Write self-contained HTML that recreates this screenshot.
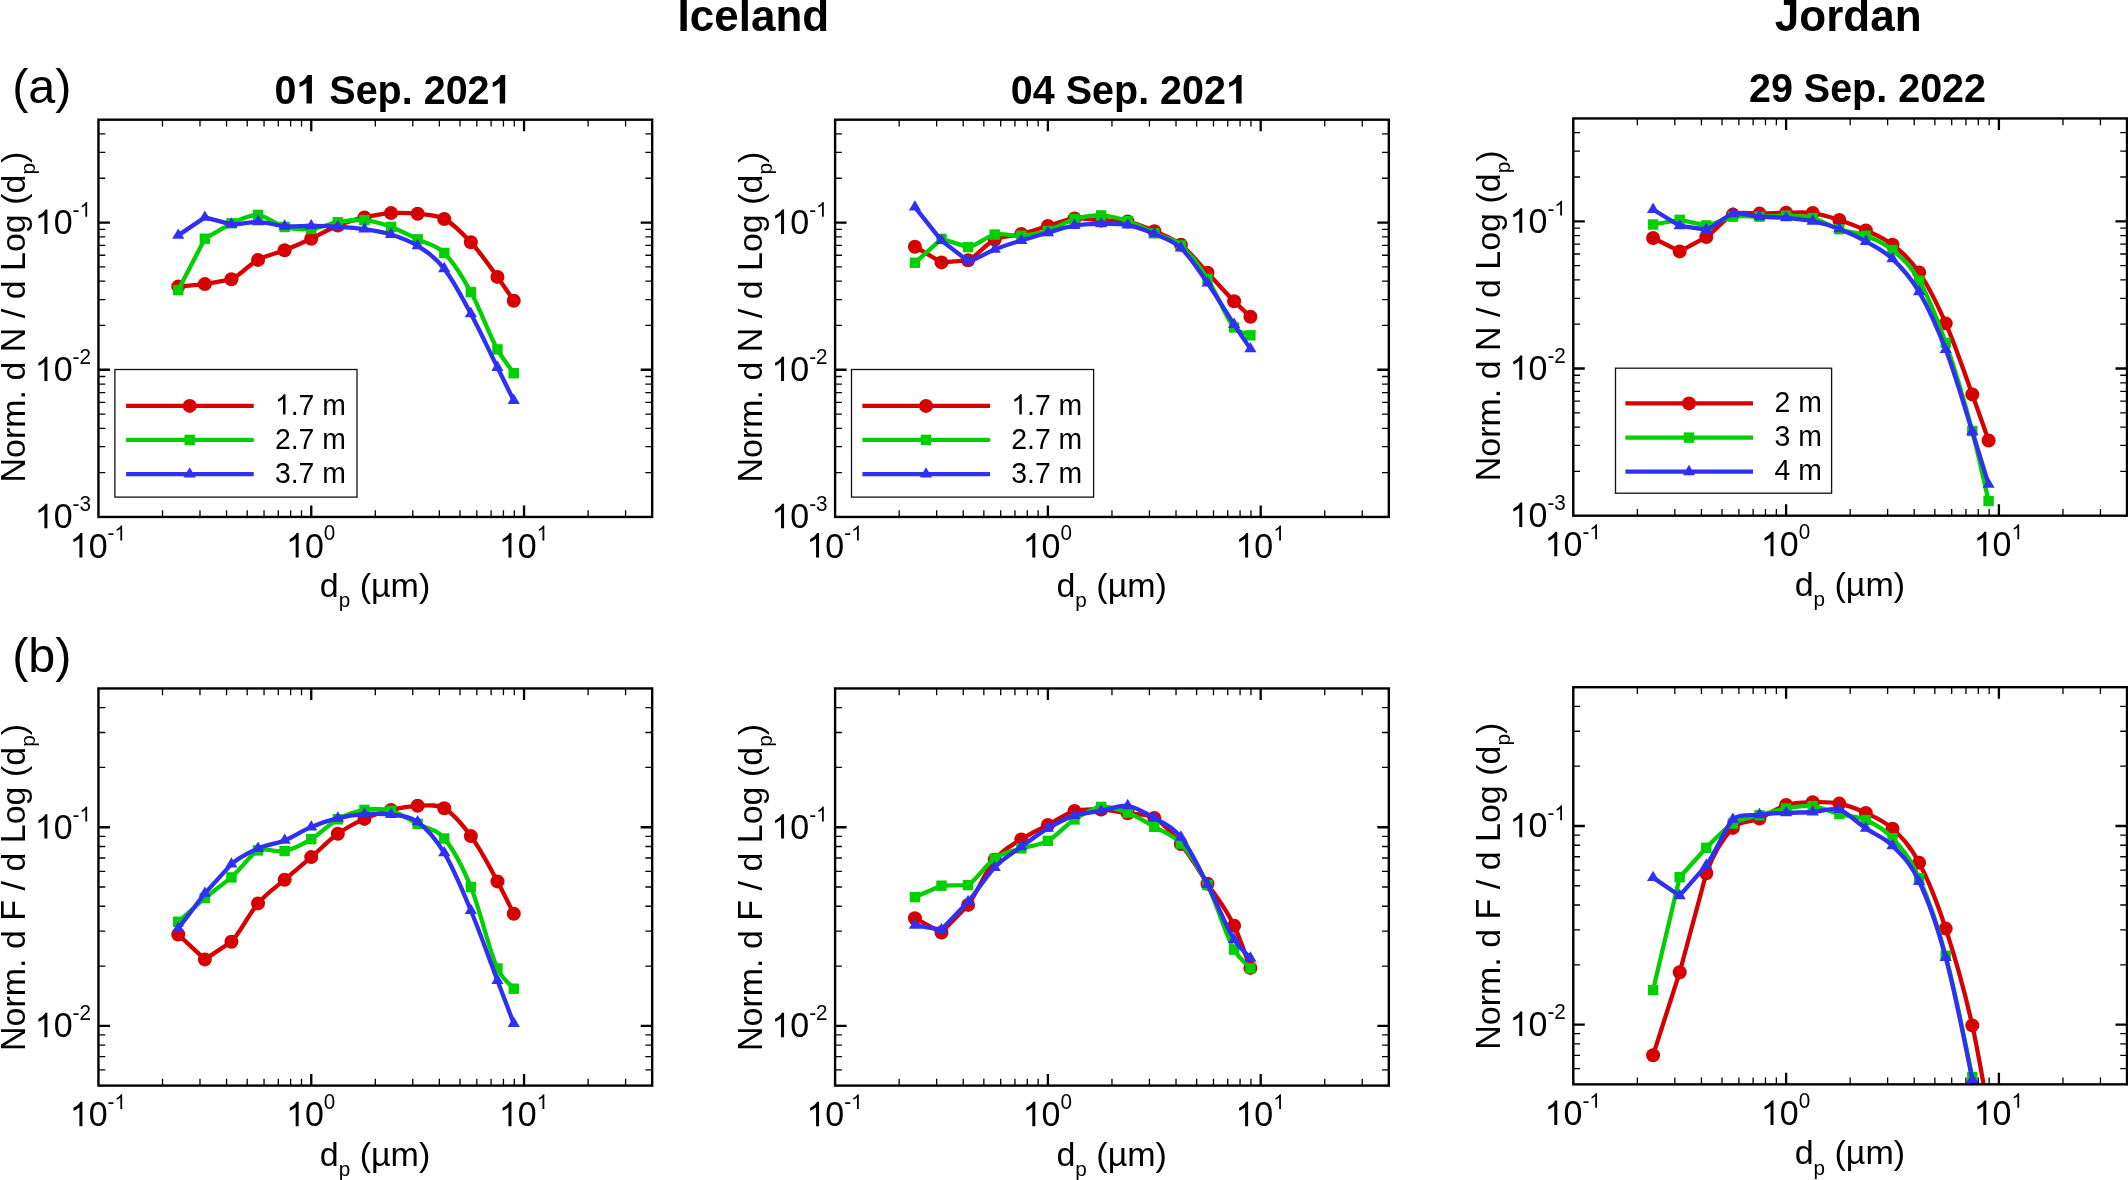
<!DOCTYPE html>
<html><head><meta charset="utf-8"><title>Particle size distributions</title>
<style>html,body{margin:0;padding:0;background:#fff}body{width:2128px;height:1180px;overflow:hidden}svg{display:block;will-change:transform}text{white-space:pre}</style>
</head><body>
<svg width="2128" height="1180" viewBox="0 0 2128 1180" font-family='"Liberation Sans", sans-serif' fill="#000">
<rect width="2128" height="1180" fill="#fff"/>
<clipPath id="c00"><rect x="98.45" y="119.70" width="553.72" height="397.25"/></clipPath>
<g clip-path="url(#c00)">
<path d="M178.25 286.60 L204.85 284.10 L231.45 279.30 C240.23 275.31 248.68 265.03 258.05 259.90 C267.42 254.77 274.91 254.08 284.65 250.20 C294.39 246.32 301.51 243.22 311.25 238.70 C320.99 234.18 328.23 229.35 337.85 225.50 C347.47 221.65 354.79 219.65 364.45 217.40 C374.11 215.15 381.47 213.75 391.05 213.10 C400.63 212.45 408.03 212.73 417.65 213.80 C427.27 214.87 435.82 214.48 444.25 219.00 C452.68 223.52 461.28 231.89 470.85 242.30 C480.42 252.71 487.71 263.46 497.45 276.90 C503.42 285.14 508.32 292.77 513.75 300.70" fill="none" stroke="#d60000" stroke-width="4.3" stroke-linejoin="round" stroke-linecap="butt"/>
<circle cx="178.25" cy="286.60" r="7" fill="#d60000"/>
<circle cx="204.85" cy="284.10" r="7" fill="#d60000"/>
<circle cx="231.45" cy="279.30" r="7" fill="#d60000"/>
<circle cx="258.05" cy="259.90" r="7" fill="#d60000"/>
<circle cx="284.65" cy="250.20" r="7" fill="#d60000"/>
<circle cx="311.25" cy="238.70" r="7" fill="#d60000"/>
<circle cx="337.85" cy="225.50" r="7" fill="#d60000"/>
<circle cx="364.45" cy="217.40" r="7" fill="#d60000"/>
<circle cx="391.05" cy="213.10" r="7" fill="#d60000"/>
<circle cx="417.65" cy="213.80" r="7" fill="#d60000"/>
<circle cx="444.25" cy="219.00" r="7" fill="#d60000"/>
<circle cx="470.85" cy="242.30" r="7" fill="#d60000"/>
<circle cx="497.45" cy="276.90" r="7" fill="#d60000"/>
<circle cx="513.75" cy="300.70" r="7" fill="#d60000"/>
<path d="M178.25 290.10 L204.85 238.70 L231.45 223.30 C240.97 219.04 250.80 214.40 258.05 214.90 C265.30 215.40 275.51 224.59 284.65 227.00 C293.79 229.41 301.99 229.74 311.25 228.90 C320.51 228.06 328.24 223.77 337.85 222.20 C347.46 220.63 355.20 219.38 364.45 220.20 C373.70 221.02 381.47 223.46 391.05 226.90 C400.63 230.34 407.90 234.54 417.65 239.30 C427.40 244.06 435.69 244.42 444.25 252.90 C452.81 261.38 461.23 274.54 470.85 292.00 C480.47 309.46 487.83 332.00 497.45 349.40 C503.34 360.06 508.32 365.27 513.75 373.20" fill="none" stroke="#00d000" stroke-width="4.3" stroke-linejoin="round" stroke-linecap="butt"/>
<rect x="173.05" y="284.90" width="10.40" height="10.40" fill="#00d000"/>
<rect x="199.65" y="233.50" width="10.40" height="10.40" fill="#00d000"/>
<rect x="226.25" y="218.10" width="10.40" height="10.40" fill="#00d000"/>
<rect x="252.85" y="209.70" width="10.40" height="10.40" fill="#00d000"/>
<rect x="279.45" y="221.80" width="10.40" height="10.40" fill="#00d000"/>
<rect x="306.05" y="223.70" width="10.40" height="10.40" fill="#00d000"/>
<rect x="332.65" y="217.00" width="10.40" height="10.40" fill="#00d000"/>
<rect x="359.25" y="215.00" width="10.40" height="10.40" fill="#00d000"/>
<rect x="385.85" y="221.70" width="10.40" height="10.40" fill="#00d000"/>
<rect x="412.45" y="234.10" width="10.40" height="10.40" fill="#00d000"/>
<rect x="439.05" y="247.70" width="10.40" height="10.40" fill="#00d000"/>
<rect x="465.65" y="286.80" width="10.40" height="10.40" fill="#00d000"/>
<rect x="492.25" y="344.20" width="10.40" height="10.40" fill="#00d000"/>
<rect x="508.55" y="368.00" width="10.40" height="10.40" fill="#00d000"/>
<path d="M178.25 235.40 L204.85 217.40 L231.45 224.30 C240.62 225.06 248.62 221.46 258.05 221.80 C267.48 222.14 275.05 225.46 284.65 226.20 C294.25 226.94 301.51 225.81 311.25 225.90 C320.99 225.99 328.11 226.11 337.85 226.70 C347.59 227.29 354.76 227.68 364.45 229.10 C374.14 230.52 381.50 231.48 391.05 234.50 C400.60 237.52 408.35 239.90 417.65 245.90 C426.95 251.90 435.01 257.02 444.25 268.80 C453.49 280.58 461.12 295.66 470.85 313.70 C480.58 331.74 487.70 347.76 497.45 367.50 C503.43 379.59 508.32 389.50 513.75 400.50" fill="none" stroke="#3030f5" stroke-width="4.3" stroke-linejoin="round" stroke-linecap="butt"/>
<path d="M178.25 228.47 L184.35 238.87 L172.15 238.87 Z" fill="#3030f5"/>
<path d="M204.85 210.47 L210.95 220.87 L198.75 220.87 Z" fill="#3030f5"/>
<path d="M231.45 217.37 L237.55 227.77 L225.35 227.77 Z" fill="#3030f5"/>
<path d="M258.05 214.87 L264.15 225.27 L251.95 225.27 Z" fill="#3030f5"/>
<path d="M284.65 219.27 L290.75 229.67 L278.55 229.67 Z" fill="#3030f5"/>
<path d="M311.25 218.97 L317.35 229.37 L305.15 229.37 Z" fill="#3030f5"/>
<path d="M337.85 219.77 L343.95 230.17 L331.75 230.17 Z" fill="#3030f5"/>
<path d="M364.45 222.17 L370.55 232.57 L358.35 232.57 Z" fill="#3030f5"/>
<path d="M391.05 227.57 L397.15 237.97 L384.95 237.97 Z" fill="#3030f5"/>
<path d="M417.65 238.97 L423.75 249.37 L411.55 249.37 Z" fill="#3030f5"/>
<path d="M444.25 261.87 L450.35 272.27 L438.15 272.27 Z" fill="#3030f5"/>
<path d="M470.85 306.77 L476.95 317.17 L464.75 317.17 Z" fill="#3030f5"/>
<path d="M497.45 360.57 L503.55 370.97 L491.35 370.97 Z" fill="#3030f5"/>
<path d="M513.75 393.57 L519.85 403.97 L507.65 403.97 Z" fill="#3030f5"/>
</g>
<path d="M162.51 516.95v-6.80 M162.51 119.70v6.80" stroke="#000" stroke-width="1.3"/>
<path d="M199.98 516.95v-6.80 M199.98 119.70v6.80" stroke="#000" stroke-width="1.3"/>
<path d="M226.57 516.95v-6.80 M226.57 119.70v6.80" stroke="#000" stroke-width="1.3"/>
<path d="M247.19 516.95v-6.80 M247.19 119.70v6.80" stroke="#000" stroke-width="1.3"/>
<path d="M264.04 516.95v-6.80 M264.04 119.70v6.80" stroke="#000" stroke-width="1.3"/>
<path d="M278.29 516.95v-6.80 M278.29 119.70v6.80" stroke="#000" stroke-width="1.3"/>
<path d="M290.63 516.95v-6.80 M290.63 119.70v6.80" stroke="#000" stroke-width="1.3"/>
<path d="M301.51 516.95v-6.80 M301.51 119.70v6.80" stroke="#000" stroke-width="1.3"/>
<path d="M311.25 516.95v-11.50 M311.25 119.70v11.50" stroke="#000" stroke-width="2.3"/>
<path d="M375.31 516.95v-6.80 M375.31 119.70v6.80" stroke="#000" stroke-width="1.3"/>
<path d="M412.78 516.95v-6.80 M412.78 119.70v6.80" stroke="#000" stroke-width="1.3"/>
<path d="M439.37 516.95v-6.80 M439.37 119.70v6.80" stroke="#000" stroke-width="1.3"/>
<path d="M459.99 516.95v-6.80 M459.99 119.70v6.80" stroke="#000" stroke-width="1.3"/>
<path d="M476.84 516.95v-6.80 M476.84 119.70v6.80" stroke="#000" stroke-width="1.3"/>
<path d="M491.09 516.95v-6.80 M491.09 119.70v6.80" stroke="#000" stroke-width="1.3"/>
<path d="M503.43 516.95v-6.80 M503.43 119.70v6.80" stroke="#000" stroke-width="1.3"/>
<path d="M514.31 516.95v-6.80 M514.31 119.70v6.80" stroke="#000" stroke-width="1.3"/>
<path d="M524.05 516.95v-11.50 M524.05 119.70v11.50" stroke="#000" stroke-width="2.3"/>
<path d="M588.11 516.95v-6.80 M588.11 119.70v6.80" stroke="#000" stroke-width="1.3"/>
<path d="M625.58 516.95v-6.80 M625.58 119.70v6.80" stroke="#000" stroke-width="1.3"/>
<path d="M98.45 472.64h6.80 M652.17 472.64h-6.80" stroke="#000" stroke-width="1.3"/>
<path d="M98.45 446.72h6.80 M652.17 446.72h-6.80" stroke="#000" stroke-width="1.3"/>
<path d="M98.45 428.34h6.80 M652.17 428.34h-6.80" stroke="#000" stroke-width="1.3"/>
<path d="M98.45 414.07h6.80 M652.17 414.07h-6.80" stroke="#000" stroke-width="1.3"/>
<path d="M98.45 402.42h6.80 M652.17 402.42h-6.80" stroke="#000" stroke-width="1.3"/>
<path d="M98.45 392.56h6.80 M652.17 392.56h-6.80" stroke="#000" stroke-width="1.3"/>
<path d="M98.45 384.03h6.80 M652.17 384.03h-6.80" stroke="#000" stroke-width="1.3"/>
<path d="M98.45 376.50h6.80 M652.17 376.50h-6.80" stroke="#000" stroke-width="1.3"/>
<path d="M98.45 369.76h11.50 M652.17 369.76h-11.50" stroke="#000" stroke-width="2.3"/>
<path d="M98.45 325.46h6.80 M652.17 325.46h-6.80" stroke="#000" stroke-width="1.3"/>
<path d="M98.45 299.54h6.80 M652.17 299.54h-6.80" stroke="#000" stroke-width="1.3"/>
<path d="M98.45 281.15h6.80 M652.17 281.15h-6.80" stroke="#000" stroke-width="1.3"/>
<path d="M98.45 266.89h6.80 M652.17 266.89h-6.80" stroke="#000" stroke-width="1.3"/>
<path d="M98.45 255.23h6.80 M652.17 255.23h-6.80" stroke="#000" stroke-width="1.3"/>
<path d="M98.45 245.38h6.80 M652.17 245.38h-6.80" stroke="#000" stroke-width="1.3"/>
<path d="M98.45 236.84h6.80 M652.17 236.84h-6.80" stroke="#000" stroke-width="1.3"/>
<path d="M98.45 229.31h6.80 M652.17 229.31h-6.80" stroke="#000" stroke-width="1.3"/>
<path d="M98.45 222.58h11.50 M652.17 222.58h-11.50" stroke="#000" stroke-width="2.3"/>
<path d="M98.45 178.27h6.80 M652.17 178.27h-6.80" stroke="#000" stroke-width="1.3"/>
<path d="M98.45 152.35h6.80 M652.17 152.35h-6.80" stroke="#000" stroke-width="1.3"/>
<path d="M98.45 133.96h6.80 M652.17 133.96h-6.80" stroke="#000" stroke-width="1.3"/>
<rect x="98.45" y="119.70" width="553.72" height="397.25" fill="none" stroke="#000" stroke-width="2.4"/>
<path transform="translate(69.74 557.55) scale(0.01660 -0.01660)" d="M763 0H583V1147Q518 1085 412.5 1023T223 930V1104Q374 1175 487 1276T647 1472H763Z"/>
<text transform="translate(88.65 557.55) scale(1 1.0405)" font-size="34.0">0</text>
<text transform="translate(107.55 540.45) scale(1 1.0405)" font-size="20.7">-</text>
<path transform="translate(114.45 540.45) scale(0.01011 -0.01011)" d="M763 0H583V1147Q518 1085 412.5 1023T223 930V1104Q374 1175 487 1276T647 1472H763Z"/>
<path transform="translate(285.99 557.55) scale(0.01660 -0.01660)" d="M763 0H583V1147Q518 1085 412.5 1023T223 930V1104Q374 1175 487 1276T647 1472H763Z"/>
<text transform="translate(304.90 557.55) scale(1 1.0405)" font-size="34.0">0</text>
<text transform="translate(323.80 540.45) scale(1 1.0405)" font-size="20.7">0</text>
<path transform="translate(498.79 557.55) scale(0.01660 -0.01660)" d="M763 0H583V1147Q518 1085 412.5 1023T223 930V1104Q374 1175 487 1276T647 1472H763Z"/>
<text transform="translate(517.70 557.55) scale(1 1.0405)" font-size="34.0">0</text>
<path transform="translate(536.60 540.45) scale(0.01011 -0.01011)" d="M763 0H583V1147Q518 1085 412.5 1023T223 930V1104Q374 1175 487 1276T647 1472H763Z"/>
<path transform="translate(34.74 528.30) scale(0.01660 -0.01660)" d="M763 0H583V1147Q518 1085 412.5 1023T223 930V1104Q374 1175 487 1276T647 1472H763Z"/>
<text transform="translate(53.64 528.30) scale(1 1.0405)" font-size="34.0">0</text>
<text transform="translate(72.55 511.20) scale(1 1.0405)" font-size="20.7">-3</text>
<path transform="translate(34.74 381.11) scale(0.01660 -0.01660)" d="M763 0H583V1147Q518 1085 412.5 1023T223 930V1104Q374 1175 487 1276T647 1472H763Z"/>
<text transform="translate(53.64 381.11) scale(1 1.0405)" font-size="34.0">0</text>
<text transform="translate(72.55 364.01) scale(1 1.0405)" font-size="20.7">-2</text>
<path transform="translate(34.74 233.93) scale(0.01660 -0.01660)" d="M763 0H583V1147Q518 1085 412.5 1023T223 930V1104Q374 1175 487 1276T647 1472H763Z"/>
<text transform="translate(53.64 233.93) scale(1 1.0405)" font-size="34.0">0</text>
<text transform="translate(72.55 216.83) scale(1 1.0405)" font-size="20.7">-</text>
<path transform="translate(79.44 216.83) scale(0.01011 -0.01011)" d="M763 0H583V1147Q518 1085 412.5 1023T223 930V1104Q374 1175 487 1276T647 1472H763Z"/>
<text x="319.80" y="596.95" font-size="34">d<tspan font-size="20.7" dy="10.4">p</tspan><tspan font-size="34" dy="-10.4"> (µm)</tspan></text>
<g transform="translate(24.95 317.13) rotate(-90)" font-size="34.0" xml:space="preserve">
<text transform="translate(-165.42 0) scale(1 1.0405)">N</text>
<text x="-140.87" y="0">orm. d </text>
<text transform="translate(-35.06 0) scale(1 1.0405)">N</text>
<text x="-10.51" y="0"> / d </text>
<text transform="translate(46.20 0) scale(1 1.0405)">L</text>
<text x="65.10" y="0">og (d</text>
<text x="142.59" y="10.4" font-size="20.7">p</text>
<text x="154.10" y="0">)</text>
</g>
<clipPath id="c01"><rect x="835.10" y="119.70" width="553.72" height="397.25"/></clipPath>
<g clip-path="url(#c01)">
<path d="M914.90 246.70 L941.50 262.40 L968.10 260.30 C976.23 256.80 985.96 243.82 994.70 239.50 C1003.44 235.18 1011.58 236.47 1021.30 234.00 C1031.02 231.53 1038.15 228.86 1047.90 226.00 C1057.65 223.14 1065.37 219.33 1074.50 218.40 C1083.63 217.47 1091.36 220.01 1101.10 220.60 C1110.84 221.19 1118.41 219.75 1127.70 221.60 C1136.99 223.45 1144.62 226.98 1154.30 231.20 C1163.98 235.42 1171.69 237.62 1180.90 244.80 C1190.11 251.98 1197.75 262.34 1207.50 272.70 C1217.25 283.06 1224.37 291.47 1234.10 301.30 C1240.06 307.32 1244.97 311.57 1250.40 316.70" fill="none" stroke="#d60000" stroke-width="4.3" stroke-linejoin="round" stroke-linecap="butt"/>
<circle cx="914.90" cy="246.70" r="7" fill="#d60000"/>
<circle cx="941.50" cy="262.40" r="7" fill="#d60000"/>
<circle cx="968.10" cy="260.30" r="7" fill="#d60000"/>
<circle cx="994.70" cy="239.50" r="7" fill="#d60000"/>
<circle cx="1021.30" cy="234.00" r="7" fill="#d60000"/>
<circle cx="1047.90" cy="226.00" r="7" fill="#d60000"/>
<circle cx="1074.50" cy="218.40" r="7" fill="#d60000"/>
<circle cx="1101.10" cy="220.60" r="7" fill="#d60000"/>
<circle cx="1127.70" cy="221.60" r="7" fill="#d60000"/>
<circle cx="1154.30" cy="231.20" r="7" fill="#d60000"/>
<circle cx="1180.90" cy="244.80" r="7" fill="#d60000"/>
<circle cx="1207.50" cy="272.70" r="7" fill="#d60000"/>
<circle cx="1234.10" cy="301.30" r="7" fill="#d60000"/>
<circle cx="1250.40" cy="316.70" r="7" fill="#d60000"/>
<path d="M914.90 262.80 L941.50 238.90 L968.10 247.10 C975.31 246.52 986.05 236.45 994.70 234.60 C1003.35 232.75 1011.78 236.36 1021.30 235.70 C1030.82 235.04 1038.43 233.87 1047.90 230.90 C1057.37 227.93 1065.14 221.73 1074.50 219.00 C1083.86 216.27 1091.92 215.04 1101.10 215.40 C1110.28 215.76 1118.18 217.90 1127.70 221.10 C1137.22 224.30 1144.55 228.83 1154.30 233.30 C1164.05 237.77 1172.19 238.05 1180.90 245.50 C1189.61 252.95 1197.89 263.99 1207.50 278.80 C1217.11 293.61 1226.19 318.36 1234.10 327.50 C1238.95 333.10 1244.97 332.70 1250.40 335.30" fill="none" stroke="#00d000" stroke-width="4.3" stroke-linejoin="round" stroke-linecap="butt"/>
<rect x="909.70" y="257.60" width="10.40" height="10.40" fill="#00d000"/>
<rect x="936.30" y="233.70" width="10.40" height="10.40" fill="#00d000"/>
<rect x="962.90" y="241.90" width="10.40" height="10.40" fill="#00d000"/>
<rect x="989.50" y="229.40" width="10.40" height="10.40" fill="#00d000"/>
<rect x="1016.10" y="230.50" width="10.40" height="10.40" fill="#00d000"/>
<rect x="1042.70" y="225.70" width="10.40" height="10.40" fill="#00d000"/>
<rect x="1069.30" y="213.80" width="10.40" height="10.40" fill="#00d000"/>
<rect x="1095.90" y="210.20" width="10.40" height="10.40" fill="#00d000"/>
<rect x="1122.50" y="215.90" width="10.40" height="10.40" fill="#00d000"/>
<rect x="1149.10" y="228.10" width="10.40" height="10.40" fill="#00d000"/>
<rect x="1175.70" y="240.30" width="10.40" height="10.40" fill="#00d000"/>
<rect x="1202.30" y="273.60" width="10.40" height="10.40" fill="#00d000"/>
<rect x="1228.90" y="322.30" width="10.40" height="10.40" fill="#00d000"/>
<rect x="1245.20" y="330.10" width="10.40" height="10.40" fill="#00d000"/>
<path d="M914.90 207.10 L941.50 240.60 L968.10 261.00 C972.82 261.78 984.98 253.14 994.70 249.40 C1004.42 245.66 1011.55 243.56 1021.30 240.50 C1031.05 237.44 1038.15 235.45 1047.90 232.70 C1057.65 229.95 1064.95 227.08 1074.50 225.50 C1084.05 223.92 1091.40 223.97 1101.10 223.90 C1110.80 223.83 1118.31 223.34 1127.70 225.10 C1137.09 226.86 1144.68 229.76 1154.30 233.90 C1163.92 238.04 1172.05 239.83 1180.90 248.00 C1189.75 256.17 1197.78 269.02 1207.50 283.00 C1217.22 296.98 1224.35 309.59 1234.10 324.50 C1240.08 333.63 1244.97 340.77 1250.40 348.90" fill="none" stroke="#3030f5" stroke-width="4.3" stroke-linejoin="round" stroke-linecap="butt"/>
<path d="M914.90 200.17 L921.00 210.57 L908.80 210.57 Z" fill="#3030f5"/>
<path d="M941.50 233.67 L947.60 244.07 L935.40 244.07 Z" fill="#3030f5"/>
<path d="M968.10 254.07 L974.20 264.47 L962.00 264.47 Z" fill="#3030f5"/>
<path d="M994.70 242.47 L1000.80 252.87 L988.60 252.87 Z" fill="#3030f5"/>
<path d="M1021.30 233.57 L1027.40 243.97 L1015.20 243.97 Z" fill="#3030f5"/>
<path d="M1047.90 225.77 L1054.00 236.17 L1041.80 236.17 Z" fill="#3030f5"/>
<path d="M1074.50 218.57 L1080.60 228.97 L1068.40 228.97 Z" fill="#3030f5"/>
<path d="M1101.10 216.97 L1107.20 227.37 L1095.00 227.37 Z" fill="#3030f5"/>
<path d="M1127.70 218.17 L1133.80 228.57 L1121.60 228.57 Z" fill="#3030f5"/>
<path d="M1154.30 226.97 L1160.40 237.37 L1148.20 237.37 Z" fill="#3030f5"/>
<path d="M1180.90 241.07 L1187.00 251.47 L1174.80 251.47 Z" fill="#3030f5"/>
<path d="M1207.50 276.07 L1213.60 286.47 L1201.40 286.47 Z" fill="#3030f5"/>
<path d="M1234.10 317.57 L1240.20 327.97 L1228.00 327.97 Z" fill="#3030f5"/>
<path d="M1250.40 341.97 L1256.50 352.37 L1244.30 352.37 Z" fill="#3030f5"/>
</g>
<path d="M899.16 516.95v-6.80 M899.16 119.70v6.80" stroke="#000" stroke-width="1.3"/>
<path d="M936.63 516.95v-6.80 M936.63 119.70v6.80" stroke="#000" stroke-width="1.3"/>
<path d="M963.22 516.95v-6.80 M963.22 119.70v6.80" stroke="#000" stroke-width="1.3"/>
<path d="M983.84 516.95v-6.80 M983.84 119.70v6.80" stroke="#000" stroke-width="1.3"/>
<path d="M1000.69 516.95v-6.80 M1000.69 119.70v6.80" stroke="#000" stroke-width="1.3"/>
<path d="M1014.94 516.95v-6.80 M1014.94 119.70v6.80" stroke="#000" stroke-width="1.3"/>
<path d="M1027.28 516.95v-6.80 M1027.28 119.70v6.80" stroke="#000" stroke-width="1.3"/>
<path d="M1038.16 516.95v-6.80 M1038.16 119.70v6.80" stroke="#000" stroke-width="1.3"/>
<path d="M1047.90 516.95v-11.50 M1047.90 119.70v11.50" stroke="#000" stroke-width="2.3"/>
<path d="M1111.96 516.95v-6.80 M1111.96 119.70v6.80" stroke="#000" stroke-width="1.3"/>
<path d="M1149.43 516.95v-6.80 M1149.43 119.70v6.80" stroke="#000" stroke-width="1.3"/>
<path d="M1176.02 516.95v-6.80 M1176.02 119.70v6.80" stroke="#000" stroke-width="1.3"/>
<path d="M1196.64 516.95v-6.80 M1196.64 119.70v6.80" stroke="#000" stroke-width="1.3"/>
<path d="M1213.49 516.95v-6.80 M1213.49 119.70v6.80" stroke="#000" stroke-width="1.3"/>
<path d="M1227.74 516.95v-6.80 M1227.74 119.70v6.80" stroke="#000" stroke-width="1.3"/>
<path d="M1240.08 516.95v-6.80 M1240.08 119.70v6.80" stroke="#000" stroke-width="1.3"/>
<path d="M1250.96 516.95v-6.80 M1250.96 119.70v6.80" stroke="#000" stroke-width="1.3"/>
<path d="M1260.70 516.95v-11.50 M1260.70 119.70v11.50" stroke="#000" stroke-width="2.3"/>
<path d="M1324.76 516.95v-6.80 M1324.76 119.70v6.80" stroke="#000" stroke-width="1.3"/>
<path d="M1362.23 516.95v-6.80 M1362.23 119.70v6.80" stroke="#000" stroke-width="1.3"/>
<path d="M835.10 472.64h6.80 M1388.82 472.64h-6.80" stroke="#000" stroke-width="1.3"/>
<path d="M835.10 446.72h6.80 M1388.82 446.72h-6.80" stroke="#000" stroke-width="1.3"/>
<path d="M835.10 428.34h6.80 M1388.82 428.34h-6.80" stroke="#000" stroke-width="1.3"/>
<path d="M835.10 414.07h6.80 M1388.82 414.07h-6.80" stroke="#000" stroke-width="1.3"/>
<path d="M835.10 402.42h6.80 M1388.82 402.42h-6.80" stroke="#000" stroke-width="1.3"/>
<path d="M835.10 392.56h6.80 M1388.82 392.56h-6.80" stroke="#000" stroke-width="1.3"/>
<path d="M835.10 384.03h6.80 M1388.82 384.03h-6.80" stroke="#000" stroke-width="1.3"/>
<path d="M835.10 376.50h6.80 M1388.82 376.50h-6.80" stroke="#000" stroke-width="1.3"/>
<path d="M835.10 369.76h11.50 M1388.82 369.76h-11.50" stroke="#000" stroke-width="2.3"/>
<path d="M835.10 325.46h6.80 M1388.82 325.46h-6.80" stroke="#000" stroke-width="1.3"/>
<path d="M835.10 299.54h6.80 M1388.82 299.54h-6.80" stroke="#000" stroke-width="1.3"/>
<path d="M835.10 281.15h6.80 M1388.82 281.15h-6.80" stroke="#000" stroke-width="1.3"/>
<path d="M835.10 266.89h6.80 M1388.82 266.89h-6.80" stroke="#000" stroke-width="1.3"/>
<path d="M835.10 255.23h6.80 M1388.82 255.23h-6.80" stroke="#000" stroke-width="1.3"/>
<path d="M835.10 245.38h6.80 M1388.82 245.38h-6.80" stroke="#000" stroke-width="1.3"/>
<path d="M835.10 236.84h6.80 M1388.82 236.84h-6.80" stroke="#000" stroke-width="1.3"/>
<path d="M835.10 229.31h6.80 M1388.82 229.31h-6.80" stroke="#000" stroke-width="1.3"/>
<path d="M835.10 222.58h11.50 M1388.82 222.58h-11.50" stroke="#000" stroke-width="2.3"/>
<path d="M835.10 178.27h6.80 M1388.82 178.27h-6.80" stroke="#000" stroke-width="1.3"/>
<path d="M835.10 152.35h6.80 M1388.82 152.35h-6.80" stroke="#000" stroke-width="1.3"/>
<path d="M835.10 133.96h6.80 M1388.82 133.96h-6.80" stroke="#000" stroke-width="1.3"/>
<rect x="835.10" y="119.70" width="553.72" height="397.25" fill="none" stroke="#000" stroke-width="2.4"/>
<path transform="translate(806.39 557.55) scale(0.01660 -0.01660)" d="M763 0H583V1147Q518 1085 412.5 1023T223 930V1104Q374 1175 487 1276T647 1472H763Z"/>
<text transform="translate(825.30 557.55) scale(1 1.0405)" font-size="34.0">0</text>
<text transform="translate(844.20 540.45) scale(1 1.0405)" font-size="20.7">-</text>
<path transform="translate(851.10 540.45) scale(0.01011 -0.01011)" d="M763 0H583V1147Q518 1085 412.5 1023T223 930V1104Q374 1175 487 1276T647 1472H763Z"/>
<path transform="translate(1022.64 557.55) scale(0.01660 -0.01660)" d="M763 0H583V1147Q518 1085 412.5 1023T223 930V1104Q374 1175 487 1276T647 1472H763Z"/>
<text transform="translate(1041.55 557.55) scale(1 1.0405)" font-size="34.0">0</text>
<text transform="translate(1060.45 540.45) scale(1 1.0405)" font-size="20.7">0</text>
<path transform="translate(1235.44 557.55) scale(0.01660 -0.01660)" d="M763 0H583V1147Q518 1085 412.5 1023T223 930V1104Q374 1175 487 1276T647 1472H763Z"/>
<text transform="translate(1254.35 557.55) scale(1 1.0405)" font-size="34.0">0</text>
<path transform="translate(1273.25 540.45) scale(0.01011 -0.01011)" d="M763 0H583V1147Q518 1085 412.5 1023T223 930V1104Q374 1175 487 1276T647 1472H763Z"/>
<path transform="translate(771.39 528.30) scale(0.01660 -0.01660)" d="M763 0H583V1147Q518 1085 412.5 1023T223 930V1104Q374 1175 487 1276T647 1472H763Z"/>
<text transform="translate(790.29 528.30) scale(1 1.0405)" font-size="34.0">0</text>
<text transform="translate(809.20 511.20) scale(1 1.0405)" font-size="20.7">-3</text>
<path transform="translate(771.39 381.11) scale(0.01660 -0.01660)" d="M763 0H583V1147Q518 1085 412.5 1023T223 930V1104Q374 1175 487 1276T647 1472H763Z"/>
<text transform="translate(790.29 381.11) scale(1 1.0405)" font-size="34.0">0</text>
<text transform="translate(809.20 364.01) scale(1 1.0405)" font-size="20.7">-2</text>
<path transform="translate(771.39 233.93) scale(0.01660 -0.01660)" d="M763 0H583V1147Q518 1085 412.5 1023T223 930V1104Q374 1175 487 1276T647 1472H763Z"/>
<text transform="translate(790.29 233.93) scale(1 1.0405)" font-size="34.0">0</text>
<text transform="translate(809.20 216.83) scale(1 1.0405)" font-size="20.7">-</text>
<path transform="translate(816.09 216.83) scale(0.01011 -0.01011)" d="M763 0H583V1147Q518 1085 412.5 1023T223 930V1104Q374 1175 487 1276T647 1472H763Z"/>
<text x="1056.45" y="596.95" font-size="34">d<tspan font-size="20.7" dy="10.4">p</tspan><tspan font-size="34" dy="-10.4"> (µm)</tspan></text>
<g transform="translate(761.60 317.13) rotate(-90)" font-size="34.0" xml:space="preserve">
<text transform="translate(-165.42 0) scale(1 1.0405)">N</text>
<text x="-140.87" y="0">orm. d </text>
<text transform="translate(-35.06 0) scale(1 1.0405)">N</text>
<text x="-10.51" y="0"> / d </text>
<text transform="translate(46.20 0) scale(1 1.0405)">L</text>
<text x="65.10" y="0">og (d</text>
<text x="142.59" y="10.4" font-size="20.7">p</text>
<text x="154.10" y="0">)</text>
</g>
<clipPath id="c02"><rect x="1573.30" y="118.45" width="553.72" height="397.25"/></clipPath>
<g clip-path="url(#c02)">
<path d="M1653.10 238.00 L1679.70 251.40 L1706.30 237.10 C1715.84 230.50 1725.22 217.99 1732.90 214.60 C1740.58 211.21 1749.75 213.93 1759.50 213.60 C1769.25 213.27 1776.35 212.90 1786.10 212.80 C1795.85 212.70 1803.24 211.77 1812.70 213.05 C1822.16 214.33 1829.61 216.84 1839.30 220.00 C1848.99 223.16 1856.22 225.89 1865.90 230.40 C1875.58 234.91 1883.20 237.46 1892.50 244.80 C1901.80 252.14 1909.74 258.58 1919.10 272.40 C1928.46 286.22 1936.02 301.20 1945.70 323.40 C1955.38 345.60 1962.55 367.60 1972.30 394.40 C1978.28 410.83 1983.17 425.13 1988.60 440.50" fill="none" stroke="#d60000" stroke-width="4.3" stroke-linejoin="round" stroke-linecap="butt"/>
<circle cx="1653.10" cy="238.00" r="7" fill="#d60000"/>
<circle cx="1679.70" cy="251.40" r="7" fill="#d60000"/>
<circle cx="1706.30" cy="237.10" r="7" fill="#d60000"/>
<circle cx="1732.90" cy="214.60" r="7" fill="#d60000"/>
<circle cx="1759.50" cy="213.60" r="7" fill="#d60000"/>
<circle cx="1786.10" cy="212.80" r="7" fill="#d60000"/>
<circle cx="1812.70" cy="213.05" r="7" fill="#d60000"/>
<circle cx="1839.30" cy="220.00" r="7" fill="#d60000"/>
<circle cx="1865.90" cy="230.40" r="7" fill="#d60000"/>
<circle cx="1892.50" cy="244.80" r="7" fill="#d60000"/>
<circle cx="1919.10" cy="272.40" r="7" fill="#d60000"/>
<circle cx="1945.70" cy="323.40" r="7" fill="#d60000"/>
<circle cx="1972.30" cy="394.40" r="7" fill="#d60000"/>
<circle cx="1988.60" cy="440.50" r="7" fill="#d60000"/>
<path d="M1653.10 224.50 L1679.70 219.80 L1706.30 225.40 C1714.73 224.89 1723.64 218.13 1732.90 216.60 C1742.16 215.07 1749.75 216.75 1759.50 216.60 C1769.25 216.45 1776.41 215.54 1786.10 215.80 C1795.79 216.06 1803.43 215.66 1812.70 218.00 C1821.97 220.34 1829.67 226.00 1839.30 229.20 C1848.93 232.40 1856.47 231.99 1865.90 235.70 C1875.33 239.41 1883.36 242.39 1892.50 250.10 C1901.64 257.81 1909.82 264.42 1919.10 280.60 C1928.38 296.78 1936.01 315.48 1945.70 342.90 C1955.39 370.32 1962.57 394.09 1972.30 431.10 C1978.26 453.78 1983.17 477.70 1988.60 501.00" fill="none" stroke="#00d000" stroke-width="4.3" stroke-linejoin="round" stroke-linecap="butt"/>
<rect x="1647.90" y="219.30" width="10.40" height="10.40" fill="#00d000"/>
<rect x="1674.50" y="214.60" width="10.40" height="10.40" fill="#00d000"/>
<rect x="1701.10" y="220.20" width="10.40" height="10.40" fill="#00d000"/>
<rect x="1727.70" y="211.40" width="10.40" height="10.40" fill="#00d000"/>
<rect x="1754.30" y="211.40" width="10.40" height="10.40" fill="#00d000"/>
<rect x="1780.90" y="210.60" width="10.40" height="10.40" fill="#00d000"/>
<rect x="1807.50" y="212.80" width="10.40" height="10.40" fill="#00d000"/>
<rect x="1834.10" y="224.00" width="10.40" height="10.40" fill="#00d000"/>
<rect x="1860.70" y="230.50" width="10.40" height="10.40" fill="#00d000"/>
<rect x="1887.30" y="244.90" width="10.40" height="10.40" fill="#00d000"/>
<rect x="1913.90" y="275.40" width="10.40" height="10.40" fill="#00d000"/>
<rect x="1940.50" y="337.70" width="10.40" height="10.40" fill="#00d000"/>
<rect x="1967.10" y="425.90" width="10.40" height="10.40" fill="#00d000"/>
<rect x="1983.40" y="495.80" width="10.40" height="10.40" fill="#00d000"/>
<path d="M1653.10 209.50 L1679.70 225.90 L1706.30 229.50 C1713.95 227.75 1725.11 215.63 1732.90 213.75 C1740.69 211.87 1749.77 215.94 1759.50 216.70 C1769.23 217.46 1776.38 217.08 1786.10 217.90 C1795.82 218.72 1803.07 219.21 1812.70 221.20 C1822.33 223.19 1829.67 225.23 1839.30 228.90 C1848.93 232.57 1856.24 236.05 1865.90 241.50 C1875.56 246.95 1883.22 250.12 1892.50 258.90 C1901.78 267.68 1909.65 275.68 1919.10 291.80 C1928.55 307.92 1936.01 324.16 1945.70 349.60 C1955.39 375.04 1962.55 400.66 1972.30 431.50 C1978.28 450.40 1983.17 466.77 1988.60 484.40" fill="none" stroke="#3030f5" stroke-width="4.3" stroke-linejoin="round" stroke-linecap="butt"/>
<path d="M1653.10 202.57 L1659.20 212.97 L1647.00 212.97 Z" fill="#3030f5"/>
<path d="M1679.70 218.97 L1685.80 229.37 L1673.60 229.37 Z" fill="#3030f5"/>
<path d="M1706.30 222.57 L1712.40 232.97 L1700.20 232.97 Z" fill="#3030f5"/>
<path d="M1732.90 206.82 L1739.00 217.22 L1726.80 217.22 Z" fill="#3030f5"/>
<path d="M1759.50 209.77 L1765.60 220.17 L1753.40 220.17 Z" fill="#3030f5"/>
<path d="M1786.10 210.97 L1792.20 221.37 L1780.00 221.37 Z" fill="#3030f5"/>
<path d="M1812.70 214.27 L1818.80 224.67 L1806.60 224.67 Z" fill="#3030f5"/>
<path d="M1839.30 221.97 L1845.40 232.37 L1833.20 232.37 Z" fill="#3030f5"/>
<path d="M1865.90 234.57 L1872.00 244.97 L1859.80 244.97 Z" fill="#3030f5"/>
<path d="M1892.50 251.97 L1898.60 262.37 L1886.40 262.37 Z" fill="#3030f5"/>
<path d="M1919.10 284.87 L1925.20 295.27 L1913.00 295.27 Z" fill="#3030f5"/>
<path d="M1945.70 342.67 L1951.80 353.07 L1939.60 353.07 Z" fill="#3030f5"/>
<path d="M1972.30 424.57 L1978.40 434.97 L1966.20 434.97 Z" fill="#3030f5"/>
<path d="M1988.60 477.47 L1994.70 487.87 L1982.50 487.87 Z" fill="#3030f5"/>
</g>
<path d="M1637.36 515.70v-6.80 M1637.36 118.45v6.80" stroke="#000" stroke-width="1.3"/>
<path d="M1674.83 515.70v-6.80 M1674.83 118.45v6.80" stroke="#000" stroke-width="1.3"/>
<path d="M1701.42 515.70v-6.80 M1701.42 118.45v6.80" stroke="#000" stroke-width="1.3"/>
<path d="M1722.04 515.70v-6.80 M1722.04 118.45v6.80" stroke="#000" stroke-width="1.3"/>
<path d="M1738.89 515.70v-6.80 M1738.89 118.45v6.80" stroke="#000" stroke-width="1.3"/>
<path d="M1753.14 515.70v-6.80 M1753.14 118.45v6.80" stroke="#000" stroke-width="1.3"/>
<path d="M1765.48 515.70v-6.80 M1765.48 118.45v6.80" stroke="#000" stroke-width="1.3"/>
<path d="M1776.36 515.70v-6.80 M1776.36 118.45v6.80" stroke="#000" stroke-width="1.3"/>
<path d="M1786.10 515.70v-11.50 M1786.10 118.45v11.50" stroke="#000" stroke-width="2.3"/>
<path d="M1850.16 515.70v-6.80 M1850.16 118.45v6.80" stroke="#000" stroke-width="1.3"/>
<path d="M1887.63 515.70v-6.80 M1887.63 118.45v6.80" stroke="#000" stroke-width="1.3"/>
<path d="M1914.22 515.70v-6.80 M1914.22 118.45v6.80" stroke="#000" stroke-width="1.3"/>
<path d="M1934.84 515.70v-6.80 M1934.84 118.45v6.80" stroke="#000" stroke-width="1.3"/>
<path d="M1951.69 515.70v-6.80 M1951.69 118.45v6.80" stroke="#000" stroke-width="1.3"/>
<path d="M1965.94 515.70v-6.80 M1965.94 118.45v6.80" stroke="#000" stroke-width="1.3"/>
<path d="M1978.28 515.70v-6.80 M1978.28 118.45v6.80" stroke="#000" stroke-width="1.3"/>
<path d="M1989.16 515.70v-6.80 M1989.16 118.45v6.80" stroke="#000" stroke-width="1.3"/>
<path d="M1998.90 515.70v-11.50 M1998.90 118.45v11.50" stroke="#000" stroke-width="2.3"/>
<path d="M2062.96 515.70v-6.80 M2062.96 118.45v6.80" stroke="#000" stroke-width="1.3"/>
<path d="M2100.43 515.70v-6.80 M2100.43 118.45v6.80" stroke="#000" stroke-width="1.3"/>
<path d="M1573.30 471.39h6.80 M2127.02 471.39h-6.80" stroke="#000" stroke-width="1.3"/>
<path d="M1573.30 445.47h6.80 M2127.02 445.47h-6.80" stroke="#000" stroke-width="1.3"/>
<path d="M1573.30 427.09h6.80 M2127.02 427.09h-6.80" stroke="#000" stroke-width="1.3"/>
<path d="M1573.30 412.82h6.80 M2127.02 412.82h-6.80" stroke="#000" stroke-width="1.3"/>
<path d="M1573.30 401.17h6.80 M2127.02 401.17h-6.80" stroke="#000" stroke-width="1.3"/>
<path d="M1573.30 391.31h6.80 M2127.02 391.31h-6.80" stroke="#000" stroke-width="1.3"/>
<path d="M1573.30 382.78h6.80 M2127.02 382.78h-6.80" stroke="#000" stroke-width="1.3"/>
<path d="M1573.30 375.25h6.80 M2127.02 375.25h-6.80" stroke="#000" stroke-width="1.3"/>
<path d="M1573.30 368.51h11.50 M2127.02 368.51h-11.50" stroke="#000" stroke-width="2.3"/>
<path d="M1573.30 324.21h6.80 M2127.02 324.21h-6.80" stroke="#000" stroke-width="1.3"/>
<path d="M1573.30 298.29h6.80 M2127.02 298.29h-6.80" stroke="#000" stroke-width="1.3"/>
<path d="M1573.30 279.90h6.80 M2127.02 279.90h-6.80" stroke="#000" stroke-width="1.3"/>
<path d="M1573.30 265.64h6.80 M2127.02 265.64h-6.80" stroke="#000" stroke-width="1.3"/>
<path d="M1573.30 253.98h6.80 M2127.02 253.98h-6.80" stroke="#000" stroke-width="1.3"/>
<path d="M1573.30 244.13h6.80 M2127.02 244.13h-6.80" stroke="#000" stroke-width="1.3"/>
<path d="M1573.30 235.59h6.80 M2127.02 235.59h-6.80" stroke="#000" stroke-width="1.3"/>
<path d="M1573.30 228.06h6.80 M2127.02 228.06h-6.80" stroke="#000" stroke-width="1.3"/>
<path d="M1573.30 221.33h11.50 M2127.02 221.33h-11.50" stroke="#000" stroke-width="2.3"/>
<path d="M1573.30 177.02h6.80 M2127.02 177.02h-6.80" stroke="#000" stroke-width="1.3"/>
<path d="M1573.30 151.10h6.80 M2127.02 151.10h-6.80" stroke="#000" stroke-width="1.3"/>
<path d="M1573.30 132.71h6.80 M2127.02 132.71h-6.80" stroke="#000" stroke-width="1.3"/>
<rect x="1573.30" y="118.45" width="553.72" height="397.25" fill="none" stroke="#000" stroke-width="2.4"/>
<path transform="translate(1544.59 556.30) scale(0.01660 -0.01660)" d="M763 0H583V1147Q518 1085 412.5 1023T223 930V1104Q374 1175 487 1276T647 1472H763Z"/>
<text transform="translate(1563.50 556.30) scale(1 1.0405)" font-size="34.0">0</text>
<text transform="translate(1582.40 539.20) scale(1 1.0405)" font-size="20.7">-</text>
<path transform="translate(1589.30 539.20) scale(0.01011 -0.01011)" d="M763 0H583V1147Q518 1085 412.5 1023T223 930V1104Q374 1175 487 1276T647 1472H763Z"/>
<path transform="translate(1760.84 556.30) scale(0.01660 -0.01660)" d="M763 0H583V1147Q518 1085 412.5 1023T223 930V1104Q374 1175 487 1276T647 1472H763Z"/>
<text transform="translate(1779.75 556.30) scale(1 1.0405)" font-size="34.0">0</text>
<text transform="translate(1798.65 539.20) scale(1 1.0405)" font-size="20.7">0</text>
<path transform="translate(1973.64 556.30) scale(0.01660 -0.01660)" d="M763 0H583V1147Q518 1085 412.5 1023T223 930V1104Q374 1175 487 1276T647 1472H763Z"/>
<text transform="translate(1992.55 556.30) scale(1 1.0405)" font-size="34.0">0</text>
<path transform="translate(2011.45 539.20) scale(0.01011 -0.01011)" d="M763 0H583V1147Q518 1085 412.5 1023T223 930V1104Q374 1175 487 1276T647 1472H763Z"/>
<path transform="translate(1509.59 527.05) scale(0.01660 -0.01660)" d="M763 0H583V1147Q518 1085 412.5 1023T223 930V1104Q374 1175 487 1276T647 1472H763Z"/>
<text transform="translate(1528.49 527.05) scale(1 1.0405)" font-size="34.0">0</text>
<text transform="translate(1547.40 509.95) scale(1 1.0405)" font-size="20.7">-3</text>
<path transform="translate(1509.59 379.86) scale(0.01660 -0.01660)" d="M763 0H583V1147Q518 1085 412.5 1023T223 930V1104Q374 1175 487 1276T647 1472H763Z"/>
<text transform="translate(1528.49 379.86) scale(1 1.0405)" font-size="34.0">0</text>
<text transform="translate(1547.40 362.76) scale(1 1.0405)" font-size="20.7">-2</text>
<path transform="translate(1509.59 232.68) scale(0.01660 -0.01660)" d="M763 0H583V1147Q518 1085 412.5 1023T223 930V1104Q374 1175 487 1276T647 1472H763Z"/>
<text transform="translate(1528.49 232.68) scale(1 1.0405)" font-size="34.0">0</text>
<text transform="translate(1547.40 215.58) scale(1 1.0405)" font-size="20.7">-</text>
<path transform="translate(1554.29 215.58) scale(0.01011 -0.01011)" d="M763 0H583V1147Q518 1085 412.5 1023T223 930V1104Q374 1175 487 1276T647 1472H763Z"/>
<text x="1794.65" y="595.70" font-size="34">d<tspan font-size="20.7" dy="10.4">p</tspan><tspan font-size="34" dy="-10.4"> (µm)</tspan></text>
<g transform="translate(1499.80 315.88) rotate(-90)" font-size="34.0" xml:space="preserve">
<text transform="translate(-165.42 0) scale(1 1.0405)">N</text>
<text x="-140.87" y="0">orm. d </text>
<text transform="translate(-35.06 0) scale(1 1.0405)">N</text>
<text x="-10.51" y="0"> / d </text>
<text transform="translate(46.20 0) scale(1 1.0405)">L</text>
<text x="65.10" y="0">og (d</text>
<text x="142.59" y="10.4" font-size="20.7">p</text>
<text x="154.10" y="0">)</text>
</g>
<clipPath id="c10"><rect x="98.45" y="688.45" width="553.72" height="397.15"/></clipPath>
<g clip-path="url(#c10)">
<path d="M178.25 934.50 L204.85 959.40 L231.45 941.80 C240.51 932.27 248.57 914.47 258.05 903.40 C267.53 892.33 274.90 888.19 284.65 879.70 C294.40 871.21 301.50 865.51 311.25 857.10 C321.00 848.69 328.31 840.65 337.85 833.80 C347.39 826.95 354.87 823.19 364.45 818.90 C374.03 814.61 381.43 812.37 391.05 810.00 C400.67 807.63 408.20 806.10 417.65 805.80 C427.10 805.50 436.88 804.10 444.25 808.30 C451.62 812.50 461.36 823.06 470.85 836.10 C480.34 849.14 487.72 863.44 497.45 881.40 C503.41 892.41 508.32 903.00 513.75 913.80" fill="none" stroke="#d60000" stroke-width="4.3" stroke-linejoin="round" stroke-linecap="butt"/>
<circle cx="178.25" cy="934.50" r="7" fill="#d60000"/>
<circle cx="204.85" cy="959.40" r="7" fill="#d60000"/>
<circle cx="231.45" cy="941.80" r="7" fill="#d60000"/>
<circle cx="258.05" cy="903.40" r="7" fill="#d60000"/>
<circle cx="284.65" cy="879.70" r="7" fill="#d60000"/>
<circle cx="311.25" cy="857.10" r="7" fill="#d60000"/>
<circle cx="337.85" cy="833.80" r="7" fill="#d60000"/>
<circle cx="364.45" cy="818.90" r="7" fill="#d60000"/>
<circle cx="391.05" cy="810.00" r="7" fill="#d60000"/>
<circle cx="417.65" cy="805.80" r="7" fill="#d60000"/>
<circle cx="444.25" cy="808.30" r="7" fill="#d60000"/>
<circle cx="470.85" cy="836.10" r="7" fill="#d60000"/>
<circle cx="497.45" cy="881.40" r="7" fill="#d60000"/>
<circle cx="513.75" cy="913.80" r="7" fill="#d60000"/>
<path d="M178.25 921.80 L204.85 898.00 L231.45 877.40 C241.12 868.75 251.36 853.72 258.05 850.40 C264.74 847.08 275.84 852.87 284.65 851.00 C293.46 849.13 301.73 844.77 311.25 839.10 C320.77 833.43 328.53 824.41 337.85 819.30 C347.17 814.19 355.38 811.33 364.45 809.90 C373.52 808.47 382.13 808.55 391.05 810.90 C399.97 813.25 407.91 818.85 417.65 823.90 C427.39 828.95 436.02 828.74 444.25 838.50 C452.48 848.26 461.26 863.59 470.85 887.00 C480.44 910.41 488.32 948.75 497.45 968.40 C503.04 980.44 508.32 981.93 513.75 988.70" fill="none" stroke="#00d000" stroke-width="4.3" stroke-linejoin="round" stroke-linecap="butt"/>
<rect x="173.05" y="916.60" width="10.40" height="10.40" fill="#00d000"/>
<rect x="199.65" y="892.80" width="10.40" height="10.40" fill="#00d000"/>
<rect x="226.25" y="872.20" width="10.40" height="10.40" fill="#00d000"/>
<rect x="252.85" y="845.20" width="10.40" height="10.40" fill="#00d000"/>
<rect x="279.45" y="845.80" width="10.40" height="10.40" fill="#00d000"/>
<rect x="306.05" y="833.90" width="10.40" height="10.40" fill="#00d000"/>
<rect x="332.65" y="814.10" width="10.40" height="10.40" fill="#00d000"/>
<rect x="359.25" y="804.70" width="10.40" height="10.40" fill="#00d000"/>
<rect x="385.85" y="805.70" width="10.40" height="10.40" fill="#00d000"/>
<rect x="412.45" y="818.70" width="10.40" height="10.40" fill="#00d000"/>
<rect x="439.05" y="833.30" width="10.40" height="10.40" fill="#00d000"/>
<rect x="465.65" y="881.80" width="10.40" height="10.40" fill="#00d000"/>
<rect x="492.25" y="963.20" width="10.40" height="10.40" fill="#00d000"/>
<rect x="508.55" y="983.50" width="10.40" height="10.40" fill="#00d000"/>
<path d="M178.25 928.50 L204.85 893.40 L231.45 864.10 C240.76 856.24 248.56 852.73 258.05 848.50 C267.54 844.27 275.03 844.27 284.65 840.40 C294.27 836.53 301.59 831.13 311.25 827.10 C320.91 823.07 328.24 820.53 337.85 818.20 C347.46 815.87 354.83 814.85 364.45 814.20 C374.07 813.55 381.61 813.23 391.05 814.60 C400.49 815.97 409.57 816.08 417.65 821.90 C425.73 827.72 434.87 837.27 444.25 852.90 C453.63 868.53 461.12 887.16 470.85 910.50 C480.58 933.84 487.70 954.80 497.45 980.50 C503.43 996.25 508.32 1009.17 513.75 1023.50" fill="none" stroke="#3030f5" stroke-width="4.3" stroke-linejoin="round" stroke-linecap="butt"/>
<path d="M178.25 921.57 L184.35 931.97 L172.15 931.97 Z" fill="#3030f5"/>
<path d="M204.85 886.47 L210.95 896.87 L198.75 896.87 Z" fill="#3030f5"/>
<path d="M231.45 857.17 L237.55 867.57 L225.35 867.57 Z" fill="#3030f5"/>
<path d="M258.05 841.57 L264.15 851.97 L251.95 851.97 Z" fill="#3030f5"/>
<path d="M284.65 833.47 L290.75 843.87 L278.55 843.87 Z" fill="#3030f5"/>
<path d="M311.25 820.17 L317.35 830.57 L305.15 830.57 Z" fill="#3030f5"/>
<path d="M337.85 811.27 L343.95 821.67 L331.75 821.67 Z" fill="#3030f5"/>
<path d="M364.45 807.27 L370.55 817.67 L358.35 817.67 Z" fill="#3030f5"/>
<path d="M391.05 807.67 L397.15 818.07 L384.95 818.07 Z" fill="#3030f5"/>
<path d="M417.65 814.97 L423.75 825.37 L411.55 825.37 Z" fill="#3030f5"/>
<path d="M444.25 845.97 L450.35 856.37 L438.15 856.37 Z" fill="#3030f5"/>
<path d="M470.85 903.57 L476.95 913.97 L464.75 913.97 Z" fill="#3030f5"/>
<path d="M497.45 973.57 L503.55 983.97 L491.35 983.97 Z" fill="#3030f5"/>
<path d="M513.75 1016.57 L519.85 1026.97 L507.65 1026.97 Z" fill="#3030f5"/>
</g>
<path d="M162.51 1085.60v-6.80 M162.51 688.45v6.80" stroke="#000" stroke-width="1.3"/>
<path d="M199.98 1085.60v-6.80 M199.98 688.45v6.80" stroke="#000" stroke-width="1.3"/>
<path d="M226.57 1085.60v-6.80 M226.57 688.45v6.80" stroke="#000" stroke-width="1.3"/>
<path d="M247.19 1085.60v-6.80 M247.19 688.45v6.80" stroke="#000" stroke-width="1.3"/>
<path d="M264.04 1085.60v-6.80 M264.04 688.45v6.80" stroke="#000" stroke-width="1.3"/>
<path d="M278.29 1085.60v-6.80 M278.29 688.45v6.80" stroke="#000" stroke-width="1.3"/>
<path d="M290.63 1085.60v-6.80 M290.63 688.45v6.80" stroke="#000" stroke-width="1.3"/>
<path d="M301.51 1085.60v-6.80 M301.51 688.45v6.80" stroke="#000" stroke-width="1.3"/>
<path d="M311.25 1085.60v-11.50 M311.25 688.45v11.50" stroke="#000" stroke-width="2.3"/>
<path d="M375.31 1085.60v-6.80 M375.31 688.45v6.80" stroke="#000" stroke-width="1.3"/>
<path d="M412.78 1085.60v-6.80 M412.78 688.45v6.80" stroke="#000" stroke-width="1.3"/>
<path d="M439.37 1085.60v-6.80 M439.37 688.45v6.80" stroke="#000" stroke-width="1.3"/>
<path d="M459.99 1085.60v-6.80 M459.99 688.45v6.80" stroke="#000" stroke-width="1.3"/>
<path d="M476.84 1085.60v-6.80 M476.84 688.45v6.80" stroke="#000" stroke-width="1.3"/>
<path d="M491.09 1085.60v-6.80 M491.09 688.45v6.80" stroke="#000" stroke-width="1.3"/>
<path d="M503.43 1085.60v-6.80 M503.43 688.45v6.80" stroke="#000" stroke-width="1.3"/>
<path d="M514.31 1085.60v-6.80 M514.31 688.45v6.80" stroke="#000" stroke-width="1.3"/>
<path d="M524.05 1085.60v-11.50 M524.05 688.45v11.50" stroke="#000" stroke-width="2.3"/>
<path d="M588.11 1085.60v-6.80 M588.11 688.45v6.80" stroke="#000" stroke-width="1.3"/>
<path d="M625.58 1085.60v-6.80 M625.58 688.45v6.80" stroke="#000" stroke-width="1.3"/>
<path d="M98.45 1069.88h6.80 M652.17 1069.88h-6.80" stroke="#000" stroke-width="1.3"/>
<path d="M98.45 1056.58h6.80 M652.17 1056.58h-6.80" stroke="#000" stroke-width="1.3"/>
<path d="M98.45 1045.07h6.80 M652.17 1045.07h-6.80" stroke="#000" stroke-width="1.3"/>
<path d="M98.45 1034.91h6.80 M652.17 1034.91h-6.80" stroke="#000" stroke-width="1.3"/>
<path d="M98.45 1025.82h11.50 M652.17 1025.82h-11.50" stroke="#000" stroke-width="2.3"/>
<path d="M98.45 966.05h6.80 M652.17 966.05h-6.80" stroke="#000" stroke-width="1.3"/>
<path d="M98.45 931.08h6.80 M652.17 931.08h-6.80" stroke="#000" stroke-width="1.3"/>
<path d="M98.45 906.27h6.80 M652.17 906.27h-6.80" stroke="#000" stroke-width="1.3"/>
<path d="M98.45 887.02h6.80 M652.17 887.02h-6.80" stroke="#000" stroke-width="1.3"/>
<path d="M98.45 871.30h6.80 M652.17 871.30h-6.80" stroke="#000" stroke-width="1.3"/>
<path d="M98.45 858.01h6.80 M652.17 858.01h-6.80" stroke="#000" stroke-width="1.3"/>
<path d="M98.45 846.49h6.80 M652.17 846.49h-6.80" stroke="#000" stroke-width="1.3"/>
<path d="M98.45 836.33h6.80 M652.17 836.33h-6.80" stroke="#000" stroke-width="1.3"/>
<path d="M98.45 827.25h11.50 M652.17 827.25h-11.50" stroke="#000" stroke-width="2.3"/>
<path d="M98.45 767.47h6.80 M652.17 767.47h-6.80" stroke="#000" stroke-width="1.3"/>
<path d="M98.45 732.50h6.80 M652.17 732.50h-6.80" stroke="#000" stroke-width="1.3"/>
<path d="M98.45 707.69h6.80 M652.17 707.69h-6.80" stroke="#000" stroke-width="1.3"/>
<rect x="98.45" y="688.45" width="553.72" height="397.15" fill="none" stroke="#000" stroke-width="2.4"/>
<path transform="translate(69.74 1126.20) scale(0.01660 -0.01660)" d="M763 0H583V1147Q518 1085 412.5 1023T223 930V1104Q374 1175 487 1276T647 1472H763Z"/>
<text transform="translate(88.65 1126.20) scale(1 1.0405)" font-size="34.0">0</text>
<text transform="translate(107.55 1109.10) scale(1 1.0405)" font-size="20.7">-</text>
<path transform="translate(114.45 1109.10) scale(0.01011 -0.01011)" d="M763 0H583V1147Q518 1085 412.5 1023T223 930V1104Q374 1175 487 1276T647 1472H763Z"/>
<path transform="translate(285.99 1126.20) scale(0.01660 -0.01660)" d="M763 0H583V1147Q518 1085 412.5 1023T223 930V1104Q374 1175 487 1276T647 1472H763Z"/>
<text transform="translate(304.90 1126.20) scale(1 1.0405)" font-size="34.0">0</text>
<text transform="translate(323.80 1109.10) scale(1 1.0405)" font-size="20.7">0</text>
<path transform="translate(498.79 1126.20) scale(0.01660 -0.01660)" d="M763 0H583V1147Q518 1085 412.5 1023T223 930V1104Q374 1175 487 1276T647 1472H763Z"/>
<text transform="translate(517.70 1126.20) scale(1 1.0405)" font-size="34.0">0</text>
<path transform="translate(536.60 1109.10) scale(0.01011 -0.01011)" d="M763 0H583V1147Q518 1085 412.5 1023T223 930V1104Q374 1175 487 1276T647 1472H763Z"/>
<path transform="translate(34.74 1037.17) scale(0.01660 -0.01660)" d="M763 0H583V1147Q518 1085 412.5 1023T223 930V1104Q374 1175 487 1276T647 1472H763Z"/>
<text transform="translate(53.64 1037.17) scale(1 1.0405)" font-size="34.0">0</text>
<text transform="translate(72.55 1020.07) scale(1 1.0405)" font-size="20.7">-2</text>
<path transform="translate(34.74 838.60) scale(0.01660 -0.01660)" d="M763 0H583V1147Q518 1085 412.5 1023T223 930V1104Q374 1175 487 1276T647 1472H763Z"/>
<text transform="translate(53.64 838.60) scale(1 1.0405)" font-size="34.0">0</text>
<text transform="translate(72.55 821.50) scale(1 1.0405)" font-size="20.7">-</text>
<path transform="translate(79.44 821.50) scale(0.01011 -0.01011)" d="M763 0H583V1147Q518 1085 412.5 1023T223 930V1104Q374 1175 487 1276T647 1472H763Z"/>
<text x="319.80" y="1165.60" font-size="34">d<tspan font-size="20.7" dy="10.4">p</tspan><tspan font-size="34" dy="-10.4"> (µm)</tspan></text>
<g transform="translate(24.95 887.52) rotate(-90)" font-size="34.0" xml:space="preserve">
<text transform="translate(-163.53 0) scale(1 1.0405)">N</text>
<text x="-138.98" y="0">orm. d </text>
<text transform="translate(-33.18 0) scale(1 1.0405)">F</text>
<text x="-12.40" y="0"> / d </text>
<text transform="translate(44.31 0) scale(1 1.0405)">L</text>
<text x="63.21" y="0">og (d</text>
<text x="140.70" y="10.4" font-size="20.7">p</text>
<text x="152.21" y="0">)</text>
</g>
<clipPath id="c11"><rect x="835.10" y="688.45" width="553.72" height="397.15"/></clipPath>
<g clip-path="url(#c11)">
<path d="M914.90 918.20 L941.50 932.60 L968.10 904.90 C977.59 891.91 985.66 870.94 994.70 859.80 C1003.74 848.66 1011.67 845.70 1021.30 839.40 C1030.93 833.10 1038.15 830.21 1047.90 825.00 C1057.65 819.79 1065.64 813.56 1074.50 811.00 C1083.36 808.44 1091.52 809.19 1101.10 809.60 C1110.68 810.01 1117.95 811.76 1127.70 813.30 C1137.45 814.84 1146.26 813.34 1154.30 818.00 C1162.34 822.66 1171.35 832.30 1180.90 844.10 C1190.45 855.90 1197.75 868.73 1207.50 883.70 C1217.25 898.67 1224.53 905.87 1234.10 925.80 C1239.96 938.01 1244.97 953.87 1250.40 967.90" fill="none" stroke="#d60000" stroke-width="4.3" stroke-linejoin="round" stroke-linecap="butt"/>
<circle cx="914.90" cy="918.20" r="7" fill="#d60000"/>
<circle cx="941.50" cy="932.60" r="7" fill="#d60000"/>
<circle cx="968.10" cy="904.90" r="7" fill="#d60000"/>
<circle cx="994.70" cy="859.80" r="7" fill="#d60000"/>
<circle cx="1021.30" cy="839.40" r="7" fill="#d60000"/>
<circle cx="1047.90" cy="825.00" r="7" fill="#d60000"/>
<circle cx="1074.50" cy="811.00" r="7" fill="#d60000"/>
<circle cx="1101.10" cy="809.60" r="7" fill="#d60000"/>
<circle cx="1127.70" cy="813.30" r="7" fill="#d60000"/>
<circle cx="1154.30" cy="818.00" r="7" fill="#d60000"/>
<circle cx="1180.90" cy="844.10" r="7" fill="#d60000"/>
<circle cx="1207.50" cy="883.70" r="7" fill="#d60000"/>
<circle cx="1234.10" cy="925.80" r="7" fill="#d60000"/>
<circle cx="1250.40" cy="967.90" r="7" fill="#d60000"/>
<path d="M914.90 897.10 L941.50 885.70 L968.10 885.10 C975.16 881.50 985.78 864.75 994.70 858.60 C1003.62 852.45 1011.59 851.63 1021.30 848.40 C1031.01 845.17 1038.93 845.78 1047.90 840.90 C1056.87 836.02 1065.02 825.51 1074.50 819.45 C1083.98 813.39 1093.37 807.88 1101.10 806.90 C1108.83 805.92 1118.31 809.19 1127.70 812.70 C1137.09 816.21 1144.57 821.15 1154.30 826.80 C1164.03 832.45 1172.06 833.93 1180.90 843.60 C1189.74 853.27 1197.91 865.88 1207.50 885.00 C1217.09 904.12 1224.86 933.08 1234.10 949.60 C1239.76 959.72 1244.97 962.07 1250.40 968.30" fill="none" stroke="#00d000" stroke-width="4.3" stroke-linejoin="round" stroke-linecap="butt"/>
<rect x="909.70" y="891.90" width="10.40" height="10.40" fill="#00d000"/>
<rect x="936.30" y="880.50" width="10.40" height="10.40" fill="#00d000"/>
<rect x="962.90" y="879.90" width="10.40" height="10.40" fill="#00d000"/>
<rect x="989.50" y="853.40" width="10.40" height="10.40" fill="#00d000"/>
<rect x="1016.10" y="843.20" width="10.40" height="10.40" fill="#00d000"/>
<rect x="1042.70" y="835.70" width="10.40" height="10.40" fill="#00d000"/>
<rect x="1069.30" y="814.25" width="10.40" height="10.40" fill="#00d000"/>
<rect x="1095.90" y="801.70" width="10.40" height="10.40" fill="#00d000"/>
<rect x="1122.50" y="807.50" width="10.40" height="10.40" fill="#00d000"/>
<rect x="1149.10" y="821.60" width="10.40" height="10.40" fill="#00d000"/>
<rect x="1175.70" y="838.40" width="10.40" height="10.40" fill="#00d000"/>
<rect x="1202.30" y="879.80" width="10.40" height="10.40" fill="#00d000"/>
<rect x="1228.90" y="944.40" width="10.40" height="10.40" fill="#00d000"/>
<rect x="1245.20" y="963.10" width="10.40" height="10.40" fill="#00d000"/>
<path d="M914.90 925.40 L941.50 929.60 L968.10 901.70 C977.80 890.37 985.25 877.26 994.70 867.50 C1004.15 857.74 1011.56 853.98 1021.30 846.80 C1031.04 839.62 1038.27 833.94 1047.90 828.30 C1057.53 822.66 1065.10 818.67 1074.50 815.60 C1083.90 812.53 1091.35 812.70 1101.10 810.90 C1110.85 809.10 1119.74 804.75 1127.70 805.80 C1135.66 806.85 1144.74 812.26 1154.30 817.90 C1163.86 823.54 1172.04 826.11 1180.90 837.20 C1189.76 848.29 1197.77 865.78 1207.50 884.50 C1217.23 903.22 1224.69 924.38 1234.10 939.50 C1239.87 948.77 1244.97 951.97 1250.40 958.20" fill="none" stroke="#3030f5" stroke-width="4.3" stroke-linejoin="round" stroke-linecap="butt"/>
<path d="M914.90 918.47 L921.00 928.87 L908.80 928.87 Z" fill="#3030f5"/>
<path d="M941.50 922.67 L947.60 933.07 L935.40 933.07 Z" fill="#3030f5"/>
<path d="M968.10 894.77 L974.20 905.17 L962.00 905.17 Z" fill="#3030f5"/>
<path d="M994.70 860.57 L1000.80 870.97 L988.60 870.97 Z" fill="#3030f5"/>
<path d="M1021.30 839.87 L1027.40 850.27 L1015.20 850.27 Z" fill="#3030f5"/>
<path d="M1047.90 821.37 L1054.00 831.77 L1041.80 831.77 Z" fill="#3030f5"/>
<path d="M1074.50 808.67 L1080.60 819.07 L1068.40 819.07 Z" fill="#3030f5"/>
<path d="M1101.10 803.97 L1107.20 814.37 L1095.00 814.37 Z" fill="#3030f5"/>
<path d="M1127.70 798.87 L1133.80 809.27 L1121.60 809.27 Z" fill="#3030f5"/>
<path d="M1154.30 810.97 L1160.40 821.37 L1148.20 821.37 Z" fill="#3030f5"/>
<path d="M1180.90 830.27 L1187.00 840.67 L1174.80 840.67 Z" fill="#3030f5"/>
<path d="M1207.50 877.57 L1213.60 887.97 L1201.40 887.97 Z" fill="#3030f5"/>
<path d="M1234.10 932.57 L1240.20 942.97 L1228.00 942.97 Z" fill="#3030f5"/>
<path d="M1250.40 951.27 L1256.50 961.67 L1244.30 961.67 Z" fill="#3030f5"/>
</g>
<path d="M899.16 1085.60v-6.80 M899.16 688.45v6.80" stroke="#000" stroke-width="1.3"/>
<path d="M936.63 1085.60v-6.80 M936.63 688.45v6.80" stroke="#000" stroke-width="1.3"/>
<path d="M963.22 1085.60v-6.80 M963.22 688.45v6.80" stroke="#000" stroke-width="1.3"/>
<path d="M983.84 1085.60v-6.80 M983.84 688.45v6.80" stroke="#000" stroke-width="1.3"/>
<path d="M1000.69 1085.60v-6.80 M1000.69 688.45v6.80" stroke="#000" stroke-width="1.3"/>
<path d="M1014.94 1085.60v-6.80 M1014.94 688.45v6.80" stroke="#000" stroke-width="1.3"/>
<path d="M1027.28 1085.60v-6.80 M1027.28 688.45v6.80" stroke="#000" stroke-width="1.3"/>
<path d="M1038.16 1085.60v-6.80 M1038.16 688.45v6.80" stroke="#000" stroke-width="1.3"/>
<path d="M1047.90 1085.60v-11.50 M1047.90 688.45v11.50" stroke="#000" stroke-width="2.3"/>
<path d="M1111.96 1085.60v-6.80 M1111.96 688.45v6.80" stroke="#000" stroke-width="1.3"/>
<path d="M1149.43 1085.60v-6.80 M1149.43 688.45v6.80" stroke="#000" stroke-width="1.3"/>
<path d="M1176.02 1085.60v-6.80 M1176.02 688.45v6.80" stroke="#000" stroke-width="1.3"/>
<path d="M1196.64 1085.60v-6.80 M1196.64 688.45v6.80" stroke="#000" stroke-width="1.3"/>
<path d="M1213.49 1085.60v-6.80 M1213.49 688.45v6.80" stroke="#000" stroke-width="1.3"/>
<path d="M1227.74 1085.60v-6.80 M1227.74 688.45v6.80" stroke="#000" stroke-width="1.3"/>
<path d="M1240.08 1085.60v-6.80 M1240.08 688.45v6.80" stroke="#000" stroke-width="1.3"/>
<path d="M1250.96 1085.60v-6.80 M1250.96 688.45v6.80" stroke="#000" stroke-width="1.3"/>
<path d="M1260.70 1085.60v-11.50 M1260.70 688.45v11.50" stroke="#000" stroke-width="2.3"/>
<path d="M1324.76 1085.60v-6.80 M1324.76 688.45v6.80" stroke="#000" stroke-width="1.3"/>
<path d="M1362.23 1085.60v-6.80 M1362.23 688.45v6.80" stroke="#000" stroke-width="1.3"/>
<path d="M835.10 1069.88h6.80 M1388.82 1069.88h-6.80" stroke="#000" stroke-width="1.3"/>
<path d="M835.10 1056.58h6.80 M1388.82 1056.58h-6.80" stroke="#000" stroke-width="1.3"/>
<path d="M835.10 1045.07h6.80 M1388.82 1045.07h-6.80" stroke="#000" stroke-width="1.3"/>
<path d="M835.10 1034.91h6.80 M1388.82 1034.91h-6.80" stroke="#000" stroke-width="1.3"/>
<path d="M835.10 1025.82h11.50 M1388.82 1025.82h-11.50" stroke="#000" stroke-width="2.3"/>
<path d="M835.10 966.05h6.80 M1388.82 966.05h-6.80" stroke="#000" stroke-width="1.3"/>
<path d="M835.10 931.08h6.80 M1388.82 931.08h-6.80" stroke="#000" stroke-width="1.3"/>
<path d="M835.10 906.27h6.80 M1388.82 906.27h-6.80" stroke="#000" stroke-width="1.3"/>
<path d="M835.10 887.02h6.80 M1388.82 887.02h-6.80" stroke="#000" stroke-width="1.3"/>
<path d="M835.10 871.30h6.80 M1388.82 871.30h-6.80" stroke="#000" stroke-width="1.3"/>
<path d="M835.10 858.01h6.80 M1388.82 858.01h-6.80" stroke="#000" stroke-width="1.3"/>
<path d="M835.10 846.49h6.80 M1388.82 846.49h-6.80" stroke="#000" stroke-width="1.3"/>
<path d="M835.10 836.33h6.80 M1388.82 836.33h-6.80" stroke="#000" stroke-width="1.3"/>
<path d="M835.10 827.25h11.50 M1388.82 827.25h-11.50" stroke="#000" stroke-width="2.3"/>
<path d="M835.10 767.47h6.80 M1388.82 767.47h-6.80" stroke="#000" stroke-width="1.3"/>
<path d="M835.10 732.50h6.80 M1388.82 732.50h-6.80" stroke="#000" stroke-width="1.3"/>
<path d="M835.10 707.69h6.80 M1388.82 707.69h-6.80" stroke="#000" stroke-width="1.3"/>
<rect x="835.10" y="688.45" width="553.72" height="397.15" fill="none" stroke="#000" stroke-width="2.4"/>
<path transform="translate(806.39 1126.20) scale(0.01660 -0.01660)" d="M763 0H583V1147Q518 1085 412.5 1023T223 930V1104Q374 1175 487 1276T647 1472H763Z"/>
<text transform="translate(825.30 1126.20) scale(1 1.0405)" font-size="34.0">0</text>
<text transform="translate(844.20 1109.10) scale(1 1.0405)" font-size="20.7">-</text>
<path transform="translate(851.10 1109.10) scale(0.01011 -0.01011)" d="M763 0H583V1147Q518 1085 412.5 1023T223 930V1104Q374 1175 487 1276T647 1472H763Z"/>
<path transform="translate(1022.64 1126.20) scale(0.01660 -0.01660)" d="M763 0H583V1147Q518 1085 412.5 1023T223 930V1104Q374 1175 487 1276T647 1472H763Z"/>
<text transform="translate(1041.55 1126.20) scale(1 1.0405)" font-size="34.0">0</text>
<text transform="translate(1060.45 1109.10) scale(1 1.0405)" font-size="20.7">0</text>
<path transform="translate(1235.44 1126.20) scale(0.01660 -0.01660)" d="M763 0H583V1147Q518 1085 412.5 1023T223 930V1104Q374 1175 487 1276T647 1472H763Z"/>
<text transform="translate(1254.35 1126.20) scale(1 1.0405)" font-size="34.0">0</text>
<path transform="translate(1273.25 1109.10) scale(0.01011 -0.01011)" d="M763 0H583V1147Q518 1085 412.5 1023T223 930V1104Q374 1175 487 1276T647 1472H763Z"/>
<path transform="translate(771.39 1037.17) scale(0.01660 -0.01660)" d="M763 0H583V1147Q518 1085 412.5 1023T223 930V1104Q374 1175 487 1276T647 1472H763Z"/>
<text transform="translate(790.29 1037.17) scale(1 1.0405)" font-size="34.0">0</text>
<text transform="translate(809.20 1020.07) scale(1 1.0405)" font-size="20.7">-2</text>
<path transform="translate(771.39 838.60) scale(0.01660 -0.01660)" d="M763 0H583V1147Q518 1085 412.5 1023T223 930V1104Q374 1175 487 1276T647 1472H763Z"/>
<text transform="translate(790.29 838.60) scale(1 1.0405)" font-size="34.0">0</text>
<text transform="translate(809.20 821.50) scale(1 1.0405)" font-size="20.7">-</text>
<path transform="translate(816.09 821.50) scale(0.01011 -0.01011)" d="M763 0H583V1147Q518 1085 412.5 1023T223 930V1104Q374 1175 487 1276T647 1472H763Z"/>
<text x="1056.45" y="1165.60" font-size="34">d<tspan font-size="20.7" dy="10.4">p</tspan><tspan font-size="34" dy="-10.4"> (µm)</tspan></text>
<g transform="translate(761.60 887.52) rotate(-90)" font-size="34.0" xml:space="preserve">
<text transform="translate(-163.53 0) scale(1 1.0405)">N</text>
<text x="-138.98" y="0">orm. d </text>
<text transform="translate(-33.18 0) scale(1 1.0405)">F</text>
<text x="-12.40" y="0"> / d </text>
<text transform="translate(44.31 0) scale(1 1.0405)">L</text>
<text x="63.21" y="0">og (d</text>
<text x="140.70" y="10.4" font-size="20.7">p</text>
<text x="152.21" y="0">)</text>
</g>
<clipPath id="c12"><rect x="1573.30" y="687.20" width="553.72" height="397.15"/></clipPath>
<g clip-path="url(#c12)">
<path d="M1653.10 1055.20 L1679.70 972.20 L1706.30 873.20 C1715.70 847.69 1725.44 835.57 1732.90 827.90 C1740.36 820.23 1749.83 822.66 1759.50 818.50 C1769.17 814.34 1776.99 807.79 1786.10 805.00 C1795.21 802.21 1803.07 802.45 1812.70 802.20 C1822.33 801.95 1829.95 801.70 1839.30 803.60 C1848.65 805.50 1856.33 808.47 1865.90 813.00 C1875.47 817.53 1883.40 820.30 1892.50 828.80 C1901.60 837.30 1909.73 845.12 1919.10 862.70 C1928.47 880.28 1936.01 898.97 1945.70 928.60 C1955.39 958.23 1962.58 981.89 1972.30 1025.40 C1978.26 1052.06 1983.17 1083.13 1988.60 1112.00" fill="none" stroke="#d60000" stroke-width="4.3" stroke-linejoin="round" stroke-linecap="butt"/>
<circle cx="1653.10" cy="1055.20" r="7" fill="#d60000"/>
<circle cx="1679.70" cy="972.20" r="7" fill="#d60000"/>
<circle cx="1706.30" cy="873.20" r="7" fill="#d60000"/>
<circle cx="1732.90" cy="827.90" r="7" fill="#d60000"/>
<circle cx="1759.50" cy="818.50" r="7" fill="#d60000"/>
<circle cx="1786.10" cy="805.00" r="7" fill="#d60000"/>
<circle cx="1812.70" cy="802.20" r="7" fill="#d60000"/>
<circle cx="1839.30" cy="803.60" r="7" fill="#d60000"/>
<circle cx="1865.90" cy="813.00" r="7" fill="#d60000"/>
<circle cx="1892.50" cy="828.80" r="7" fill="#d60000"/>
<circle cx="1919.10" cy="862.70" r="7" fill="#d60000"/>
<circle cx="1945.70" cy="928.60" r="7" fill="#d60000"/>
<circle cx="1972.30" cy="1025.40" r="7" fill="#d60000"/>
<circle cx="1988.60" cy="1112.00" r="7" fill="#d60000"/>
<path d="M1653.10 990.10 L1679.70 877.20 L1706.30 847.80 C1716.01 838.02 1724.06 829.00 1732.90 823.60 C1741.74 818.20 1749.76 818.08 1759.50 815.30 C1769.24 812.52 1776.48 810.06 1786.10 808.40 C1795.72 806.74 1803.64 805.13 1812.70 806.10 C1821.76 807.07 1829.57 811.56 1839.30 814.10 C1849.03 816.64 1856.85 815.90 1865.90 820.00 C1874.95 824.10 1883.46 828.31 1892.50 838.20 C1901.54 848.09 1909.67 857.36 1919.10 878.20 C1928.53 899.04 1936.01 919.49 1945.70 955.70 C1955.39 991.91 1962.55 1029.94 1972.30 1077.00 C1978.28 1105.84 1983.17 1132.33 1988.60 1160.00" fill="none" stroke="#00d000" stroke-width="4.3" stroke-linejoin="round" stroke-linecap="butt"/>
<rect x="1647.90" y="984.90" width="10.40" height="10.40" fill="#00d000"/>
<rect x="1674.50" y="872.00" width="10.40" height="10.40" fill="#00d000"/>
<rect x="1701.10" y="842.60" width="10.40" height="10.40" fill="#00d000"/>
<rect x="1727.70" y="818.40" width="10.40" height="10.40" fill="#00d000"/>
<rect x="1754.30" y="810.10" width="10.40" height="10.40" fill="#00d000"/>
<rect x="1780.90" y="803.20" width="10.40" height="10.40" fill="#00d000"/>
<rect x="1807.50" y="800.90" width="10.40" height="10.40" fill="#00d000"/>
<rect x="1834.10" y="808.90" width="10.40" height="10.40" fill="#00d000"/>
<rect x="1860.70" y="814.80" width="10.40" height="10.40" fill="#00d000"/>
<rect x="1887.30" y="833.00" width="10.40" height="10.40" fill="#00d000"/>
<rect x="1913.90" y="873.00" width="10.40" height="10.40" fill="#00d000"/>
<rect x="1940.50" y="950.50" width="10.40" height="10.40" fill="#00d000"/>
<rect x="1967.10" y="1071.80" width="10.40" height="10.40" fill="#00d000"/>
<rect x="1983.40" y="1154.80" width="10.40" height="10.40" fill="#00d000"/>
<path d="M1653.10 877.60 L1679.70 895.70 L1706.30 865.40 C1715.87 851.68 1726.65 825.34 1732.90 819.40 C1739.15 813.46 1749.80 815.99 1759.50 814.80 C1769.20 813.61 1776.35 813.41 1786.10 812.90 C1795.85 812.39 1802.96 812.60 1812.70 812.00 C1822.44 811.40 1831.87 807.31 1839.30 809.60 C1846.73 811.89 1856.15 821.77 1865.90 828.40 C1875.65 835.03 1883.34 836.66 1892.50 845.80 C1901.66 854.94 1909.79 861.96 1919.10 881.50 C1928.41 901.04 1936.02 921.47 1945.70 957.50 C1955.38 993.53 1962.55 1031.57 1972.30 1079.50 C1978.27 1108.87 1983.17 1136.50 1988.60 1165.00" fill="none" stroke="#3030f5" stroke-width="4.3" stroke-linejoin="round" stroke-linecap="butt"/>
<path d="M1653.10 870.67 L1659.20 881.07 L1647.00 881.07 Z" fill="#3030f5"/>
<path d="M1679.70 888.77 L1685.80 899.17 L1673.60 899.17 Z" fill="#3030f5"/>
<path d="M1706.30 858.47 L1712.40 868.87 L1700.20 868.87 Z" fill="#3030f5"/>
<path d="M1732.90 812.47 L1739.00 822.87 L1726.80 822.87 Z" fill="#3030f5"/>
<path d="M1759.50 807.87 L1765.60 818.27 L1753.40 818.27 Z" fill="#3030f5"/>
<path d="M1786.10 805.97 L1792.20 816.37 L1780.00 816.37 Z" fill="#3030f5"/>
<path d="M1812.70 805.07 L1818.80 815.47 L1806.60 815.47 Z" fill="#3030f5"/>
<path d="M1839.30 802.67 L1845.40 813.07 L1833.20 813.07 Z" fill="#3030f5"/>
<path d="M1865.90 821.47 L1872.00 831.87 L1859.80 831.87 Z" fill="#3030f5"/>
<path d="M1892.50 838.87 L1898.60 849.27 L1886.40 849.27 Z" fill="#3030f5"/>
<path d="M1919.10 874.57 L1925.20 884.97 L1913.00 884.97 Z" fill="#3030f5"/>
<path d="M1945.70 950.57 L1951.80 960.97 L1939.60 960.97 Z" fill="#3030f5"/>
<path d="M1972.30 1072.57 L1978.40 1082.97 L1966.20 1082.97 Z" fill="#3030f5"/>
<path d="M1988.60 1158.07 L1994.70 1168.47 L1982.50 1168.47 Z" fill="#3030f5"/>
</g>
<path d="M1637.36 1084.35v-6.80 M1637.36 687.20v6.80" stroke="#000" stroke-width="1.3"/>
<path d="M1674.83 1084.35v-6.80 M1674.83 687.20v6.80" stroke="#000" stroke-width="1.3"/>
<path d="M1701.42 1084.35v-6.80 M1701.42 687.20v6.80" stroke="#000" stroke-width="1.3"/>
<path d="M1722.04 1084.35v-6.80 M1722.04 687.20v6.80" stroke="#000" stroke-width="1.3"/>
<path d="M1738.89 1084.35v-6.80 M1738.89 687.20v6.80" stroke="#000" stroke-width="1.3"/>
<path d="M1753.14 1084.35v-6.80 M1753.14 687.20v6.80" stroke="#000" stroke-width="1.3"/>
<path d="M1765.48 1084.35v-6.80 M1765.48 687.20v6.80" stroke="#000" stroke-width="1.3"/>
<path d="M1776.36 1084.35v-6.80 M1776.36 687.20v6.80" stroke="#000" stroke-width="1.3"/>
<path d="M1786.10 1084.35v-11.50 M1786.10 687.20v11.50" stroke="#000" stroke-width="2.3"/>
<path d="M1850.16 1084.35v-6.80 M1850.16 687.20v6.80" stroke="#000" stroke-width="1.3"/>
<path d="M1887.63 1084.35v-6.80 M1887.63 687.20v6.80" stroke="#000" stroke-width="1.3"/>
<path d="M1914.22 1084.35v-6.80 M1914.22 687.20v6.80" stroke="#000" stroke-width="1.3"/>
<path d="M1934.84 1084.35v-6.80 M1934.84 687.20v6.80" stroke="#000" stroke-width="1.3"/>
<path d="M1951.69 1084.35v-6.80 M1951.69 687.20v6.80" stroke="#000" stroke-width="1.3"/>
<path d="M1965.94 1084.35v-6.80 M1965.94 687.20v6.80" stroke="#000" stroke-width="1.3"/>
<path d="M1978.28 1084.35v-6.80 M1978.28 687.20v6.80" stroke="#000" stroke-width="1.3"/>
<path d="M1989.16 1084.35v-6.80 M1989.16 687.20v6.80" stroke="#000" stroke-width="1.3"/>
<path d="M1998.90 1084.35v-11.50 M1998.90 687.20v11.50" stroke="#000" stroke-width="2.3"/>
<path d="M2062.96 1084.35v-6.80 M2062.96 687.20v6.80" stroke="#000" stroke-width="1.3"/>
<path d="M2100.43 1084.35v-6.80 M2100.43 687.20v6.80" stroke="#000" stroke-width="1.3"/>
<path d="M1573.30 1068.63h6.80 M2127.02 1068.63h-6.80" stroke="#000" stroke-width="1.3"/>
<path d="M1573.30 1055.33h6.80 M2127.02 1055.33h-6.80" stroke="#000" stroke-width="1.3"/>
<path d="M1573.30 1043.82h6.80 M2127.02 1043.82h-6.80" stroke="#000" stroke-width="1.3"/>
<path d="M1573.30 1033.66h6.80 M2127.02 1033.66h-6.80" stroke="#000" stroke-width="1.3"/>
<path d="M1573.30 1024.57h11.50 M2127.02 1024.57h-11.50" stroke="#000" stroke-width="2.3"/>
<path d="M1573.30 964.80h6.80 M2127.02 964.80h-6.80" stroke="#000" stroke-width="1.3"/>
<path d="M1573.30 929.83h6.80 M2127.02 929.83h-6.80" stroke="#000" stroke-width="1.3"/>
<path d="M1573.30 905.02h6.80 M2127.02 905.02h-6.80" stroke="#000" stroke-width="1.3"/>
<path d="M1573.30 885.77h6.80 M2127.02 885.77h-6.80" stroke="#000" stroke-width="1.3"/>
<path d="M1573.30 870.05h6.80 M2127.02 870.05h-6.80" stroke="#000" stroke-width="1.3"/>
<path d="M1573.30 856.76h6.80 M2127.02 856.76h-6.80" stroke="#000" stroke-width="1.3"/>
<path d="M1573.30 845.24h6.80 M2127.02 845.24h-6.80" stroke="#000" stroke-width="1.3"/>
<path d="M1573.30 835.08h6.80 M2127.02 835.08h-6.80" stroke="#000" stroke-width="1.3"/>
<path d="M1573.30 826.00h11.50 M2127.02 826.00h-11.50" stroke="#000" stroke-width="2.3"/>
<path d="M1573.30 766.22h6.80 M2127.02 766.22h-6.80" stroke="#000" stroke-width="1.3"/>
<path d="M1573.30 731.25h6.80 M2127.02 731.25h-6.80" stroke="#000" stroke-width="1.3"/>
<path d="M1573.30 706.44h6.80 M2127.02 706.44h-6.80" stroke="#000" stroke-width="1.3"/>
<rect x="1573.30" y="687.20" width="553.72" height="397.15" fill="none" stroke="#000" stroke-width="2.4"/>
<path transform="translate(1544.59 1124.95) scale(0.01660 -0.01660)" d="M763 0H583V1147Q518 1085 412.5 1023T223 930V1104Q374 1175 487 1276T647 1472H763Z"/>
<text transform="translate(1563.50 1124.95) scale(1 1.0405)" font-size="34.0">0</text>
<text transform="translate(1582.40 1107.85) scale(1 1.0405)" font-size="20.7">-</text>
<path transform="translate(1589.30 1107.85) scale(0.01011 -0.01011)" d="M763 0H583V1147Q518 1085 412.5 1023T223 930V1104Q374 1175 487 1276T647 1472H763Z"/>
<path transform="translate(1760.84 1124.95) scale(0.01660 -0.01660)" d="M763 0H583V1147Q518 1085 412.5 1023T223 930V1104Q374 1175 487 1276T647 1472H763Z"/>
<text transform="translate(1779.75 1124.95) scale(1 1.0405)" font-size="34.0">0</text>
<text transform="translate(1798.65 1107.85) scale(1 1.0405)" font-size="20.7">0</text>
<path transform="translate(1973.64 1124.95) scale(0.01660 -0.01660)" d="M763 0H583V1147Q518 1085 412.5 1023T223 930V1104Q374 1175 487 1276T647 1472H763Z"/>
<text transform="translate(1992.55 1124.95) scale(1 1.0405)" font-size="34.0">0</text>
<path transform="translate(2011.45 1107.85) scale(0.01011 -0.01011)" d="M763 0H583V1147Q518 1085 412.5 1023T223 930V1104Q374 1175 487 1276T647 1472H763Z"/>
<path transform="translate(1509.59 1035.92) scale(0.01660 -0.01660)" d="M763 0H583V1147Q518 1085 412.5 1023T223 930V1104Q374 1175 487 1276T647 1472H763Z"/>
<text transform="translate(1528.49 1035.92) scale(1 1.0405)" font-size="34.0">0</text>
<text transform="translate(1547.40 1018.82) scale(1 1.0405)" font-size="20.7">-2</text>
<path transform="translate(1509.59 837.35) scale(0.01660 -0.01660)" d="M763 0H583V1147Q518 1085 412.5 1023T223 930V1104Q374 1175 487 1276T647 1472H763Z"/>
<text transform="translate(1528.49 837.35) scale(1 1.0405)" font-size="34.0">0</text>
<text transform="translate(1547.40 820.25) scale(1 1.0405)" font-size="20.7">-</text>
<path transform="translate(1554.29 820.25) scale(0.01011 -0.01011)" d="M763 0H583V1147Q518 1085 412.5 1023T223 930V1104Q374 1175 487 1276T647 1472H763Z"/>
<text x="1794.65" y="1164.35" font-size="34">d<tspan font-size="20.7" dy="10.4">p</tspan><tspan font-size="34" dy="-10.4"> (µm)</tspan></text>
<g transform="translate(1499.80 886.27) rotate(-90)" font-size="34.0" xml:space="preserve">
<text transform="translate(-163.53 0) scale(1 1.0405)">N</text>
<text x="-138.98" y="0">orm. d </text>
<text transform="translate(-33.18 0) scale(1 1.0405)">F</text>
<text x="-12.40" y="0"> / d </text>
<text transform="translate(44.31 0) scale(1 1.0405)">L</text>
<text x="63.21" y="0">og (d</text>
<text x="140.70" y="10.4" font-size="20.7">p</text>
<text x="152.21" y="0">)</text>
</g>
<rect x="114.90" y="369.50" width="242.10" height="127.60" fill="#fff" stroke="#111" stroke-width="1.3"/>
<path d="M126.10 405.90H253.70" stroke="#d60000" stroke-width="4.3"/>
<circle cx="189.70" cy="405.90" r="7" fill="#d60000"/>
<path transform="translate(274.90 414.60) scale(0.01387 -0.01387)" d="M763 0H583V1147Q518 1085 412.5 1023T223 930V1104Q374 1175 487 1276T647 1472H763Z"/>
<text transform="translate(290.69 414.60) scale(1 1.0405)" font-size="28.4">.7 m</text>
<path d="M126.10 439.90H253.70" stroke="#00d000" stroke-width="4.3"/>
<rect x="184.50" y="434.70" width="10.40" height="10.40" fill="#00d000"/>
<text transform="translate(274.90 448.60) scale(1 1.0405)" font-size="28.4">2.7 m</text>
<path d="M126.10 474.10H253.70" stroke="#3030f5" stroke-width="4.3"/>
<path d="M189.70 467.17 L195.80 477.57 L183.60 477.57 Z" fill="#3030f5"/>
<text transform="translate(274.90 482.80) scale(1 1.0405)" font-size="28.4">3.7 m</text>
<rect x="851.50" y="369.50" width="242.10" height="127.60" fill="#fff" stroke="#111" stroke-width="1.3"/>
<path d="M862.40 405.90H990.00" stroke="#d60000" stroke-width="4.3"/>
<circle cx="926.00" cy="405.90" r="7" fill="#d60000"/>
<path transform="translate(1011.20 414.60) scale(0.01387 -0.01387)" d="M763 0H583V1147Q518 1085 412.5 1023T223 930V1104Q374 1175 487 1276T647 1472H763Z"/>
<text transform="translate(1026.99 414.60) scale(1 1.0405)" font-size="28.4">.7 m</text>
<path d="M862.40 439.90H990.00" stroke="#00d000" stroke-width="4.3"/>
<rect x="920.80" y="434.70" width="10.40" height="10.40" fill="#00d000"/>
<text transform="translate(1011.20 448.60) scale(1 1.0405)" font-size="28.4">2.7 m</text>
<path d="M862.40 474.10H990.00" stroke="#3030f5" stroke-width="4.3"/>
<path d="M926.00 467.17 L932.10 477.57 L919.90 477.57 Z" fill="#3030f5"/>
<text transform="translate(1011.20 482.80) scale(1 1.0405)" font-size="28.4">3.7 m</text>
<rect x="1615.50" y="368.20" width="216.10" height="125.00" fill="#fff" stroke="#111" stroke-width="1.3"/>
<path d="M1625.40 403.40H1753.00" stroke="#d60000" stroke-width="4.3"/>
<circle cx="1689.00" cy="403.40" r="7" fill="#d60000"/>
<text transform="translate(1774.60 412.10) scale(1 1.0405)" font-size="28.4">2 m</text>
<path d="M1625.40 437.60H1753.00" stroke="#00d000" stroke-width="4.3"/>
<rect x="1683.80" y="432.40" width="10.40" height="10.40" fill="#00d000"/>
<text transform="translate(1774.60 446.30) scale(1 1.0405)" font-size="28.4">3 m</text>
<path d="M1625.40 471.70H1753.00" stroke="#3030f5" stroke-width="4.3"/>
<path d="M1689.00 464.77 L1695.10 475.17 L1682.90 475.17 Z" fill="#3030f5"/>
<text transform="translate(1774.60 480.40) scale(1 1.0405)" font-size="28.4">4 m</text>
<text x="753.4" y="31.0" font-size="44" font-weight="bold" text-anchor="middle">Iceland</text>
<text x="1848.2" y="30.6" font-size="44" font-weight="bold" text-anchor="middle">Jordan</text>
<text transform="translate(274.42 103.50) scale(1 1.0405)" font-size="39.5" font-weight="bold" xml:space="preserve">0</text>
<path transform="translate(296.38 103.50) scale(0.01929 -0.01929)" d="M806 0H525V1059Q371 915 162 846V1101Q272 1137 401 1237.5T578 1472H806Z"/>
<text transform="translate(318.34 103.50) scale(1 1.0405)" font-size="39.5" font-weight="bold" xml:space="preserve"> Sep. 202</text>
<path transform="translate(489.62 103.50) scale(0.01929 -0.01929)" d="M806 0H525V1059Q371 915 162 846V1101Q272 1137 401 1237.5T578 1472H806Z"/>
<text transform="translate(1010.82 103.50) scale(1 1.0405)" font-size="39.5" font-weight="bold" xml:space="preserve">04 Sep. 202</text>
<path transform="translate(1226.02 103.50) scale(0.01929 -0.01929)" d="M806 0H525V1059Q371 915 162 846V1101Q272 1137 401 1237.5T578 1472H806Z"/>
<text transform="translate(1748.92 102.40) scale(1 1.0405)" font-size="39.5" font-weight="bold" xml:space="preserve">29 Sep. 2022</text>
<text x="12.2" y="102.7" font-size="48.5">(a)</text>
<text x="12.2" y="671.7" font-size="48.5">(b)</text>
</svg>
</body></html>
